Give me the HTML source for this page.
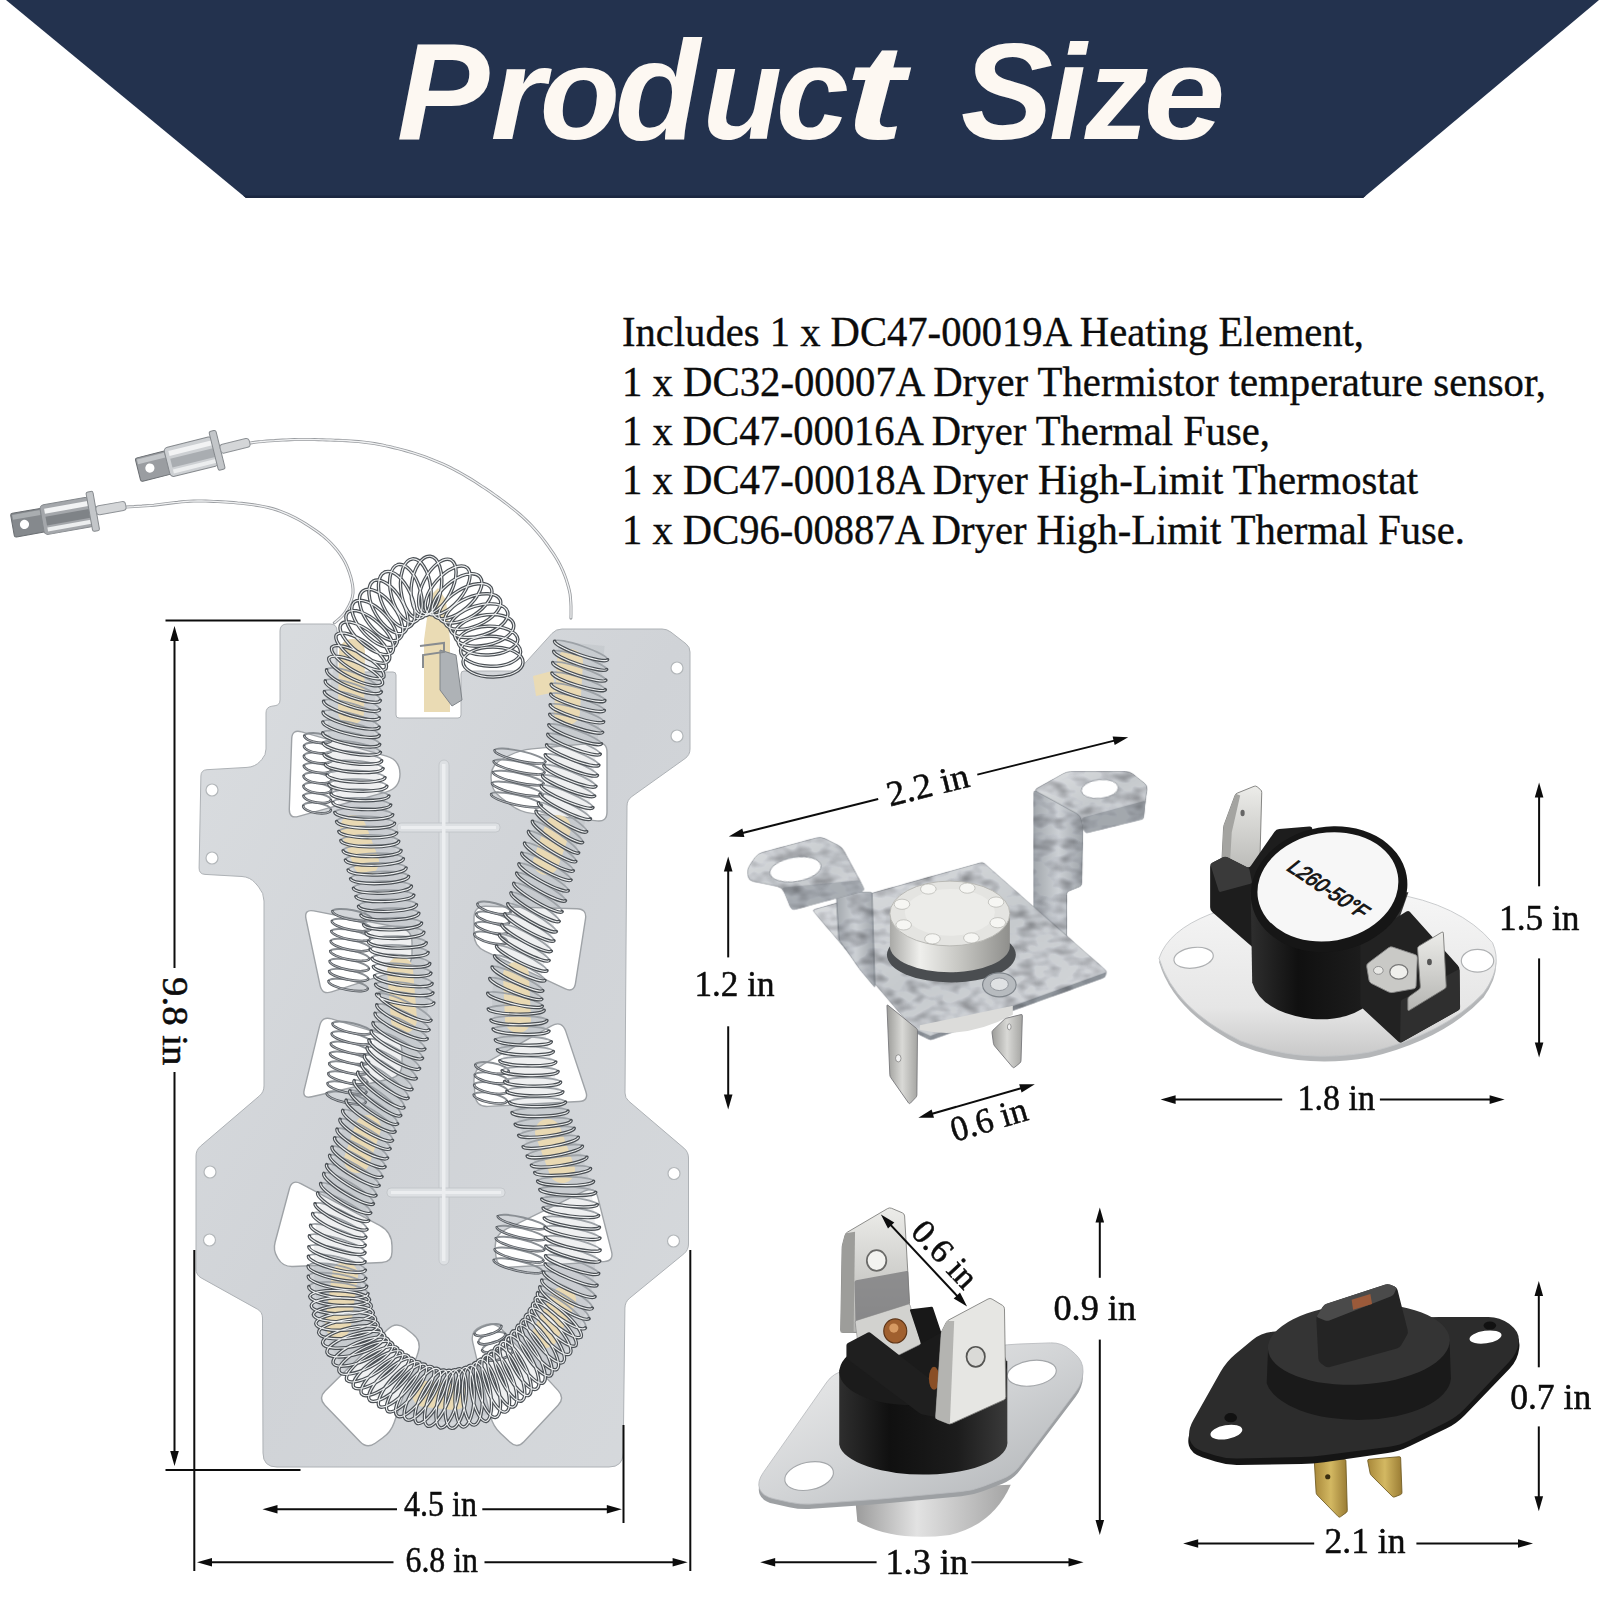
<!DOCTYPE html>
<html><head><meta charset="utf-8">
<style>
html,body{margin:0;padding:0;background:#fff;}
body{width:1601px;height:1601px;overflow:hidden;position:relative;font-family:"Liberation Serif",serif;}
svg{position:absolute;left:0;top:0;}
.title{font-family:"Liberation Sans",sans-serif;font-weight:bold;font-style:italic;fill:#fdf8f2;}
.desc{font-family:"Liberation Serif",serif;fill:#0c0c0c;stroke:#0c0c0c;stroke-width:0.35;}
.dim{font-family:"Liberation Serif",serif;fill:#0c0c0c;stroke:#0c0c0c;stroke-width:0.5;}
.sans{font-family:"Liberation Sans",sans-serif;}
</style></head><body>
<svg id="main" width="1601" height="1601" viewBox="0 0 1601 1601">
<defs>
<linearGradient id="plateg" x1="0" y1="0" x2="1" y2="1"><stop offset="0" stop-color="#dadde0"/><stop offset="0.5" stop-color="#d0d3d7"/><stop offset="1" stop-color="#d6d9dc"/></linearGradient>

<filter id="galv" x="0" y="0" width="100%" height="100%" color-interpolation-filters="sRGB"><feTurbulence type="fractalNoise" baseFrequency="0.016 0.026" numOctaves="2" seed="7" result="t"/><feColorMatrix in="t" type="matrix" values="0.7 0 0 0 0.6  0.7 0 0 0 0.6  0.7 0 0 0 0.61  0 0 0 0 1" result="g"/><feBlend in="SourceGraphic" in2="g" mode="multiply" result="b"/><feComposite in="b" in2="SourceGraphic" operator="in"/></filter>
<linearGradient id="gz" x1="0" y1="0" x2="1" y2="1"><stop offset="0" stop-color="#dfe1e3"/><stop offset="0.5" stop-color="#c6cacd"/><stop offset="1" stop-color="#d9dbde"/></linearGradient>
<linearGradient id="gzd" x1="0" y1="0" x2="1" y2="0"><stop offset="0" stop-color="#a3a8ad"/><stop offset="0.5" stop-color="#cdd1d5"/><stop offset="1" stop-color="#9fa4a9"/></linearGradient>
<linearGradient id="gcyl" x1="0" y1="0" x2="1" y2="0"><stop offset="0" stop-color="#a9a9a6"/><stop offset="0.25" stop-color="#efefec"/><stop offset="0.6" stop-color="#c4c4c0"/><stop offset="1" stop-color="#8f8f8c"/></linearGradient>
<linearGradient id="gblade" x1="0" y1="0" x2="1" y2="0"><stop offset="0" stop-color="#9c9c99"/><stop offset="0.5" stop-color="#d9d9d6"/><stop offset="1" stop-color="#a5a5a2"/></linearGradient>
<linearGradient id="gblade2" x1="0" y1="0" x2="0" y2="1"><stop offset="0" stop-color="#ecece9"/><stop offset="1" stop-color="#b5b5b2"/></linearGradient>
<linearGradient id="gwhite" x1="0" y1="0" x2="0" y2="1"><stop offset="0" stop-color="#f6f6f6"/><stop offset="0.7" stop-color="#e6e6e6"/><stop offset="1" stop-color="#c9c9c9"/></linearGradient>
<linearGradient id="gblk" x1="0" y1="0" x2="1" y2="0"><stop offset="0" stop-color="#2e2e2e"/><stop offset="0.3" stop-color="#101010"/><stop offset="0.7" stop-color="#1c1c1c"/><stop offset="1" stop-color="#3a3a3a"/></linearGradient>
<linearGradient id="gfl" x1="0" y1="0" x2="1" y2="1"><stop offset="0" stop-color="#f0f0f0"/><stop offset="0.5" stop-color="#d2d4d6"/><stop offset="1" stop-color="#aeb1b4"/></linearGradient>
<linearGradient id="gcup" x1="0" y1="0" x2="1" y2="0"><stop offset="0" stop-color="#9a9a9a"/><stop offset="0.4" stop-color="#e2e2e2"/><stop offset="1" stop-color="#a4a4a4"/></linearGradient>
<linearGradient id="gbrass" x1="0" y1="0" x2="1" y2="0"><stop offset="0" stop-color="#a8883a"/><stop offset="0.5" stop-color="#d3b862"/><stop offset="1" stop-color="#9a7c34"/></linearGradient>

</defs>
<!-- BANNER -->
<polygon points="6,0 1599,0 1363,198 246,198" fill="#23324e"/>
<polygon points="246,198 1363,198 1366,195.5 243,195.5" fill="#1b2740"/>
<text class="title" font-size="131" transform="translate(396.7 139.2) scale(1.060 1.044)">P</text>
<text class="title" font-size="131" transform="translate(490.6 139.2) scale(1.076 1.000)">r</text>
<text class="title" font-size="131" transform="translate(539.8 139.2) scale(1.003 1.000)">o</text>
<text class="title" font-size="131" transform="translate(614.7 139.2) scale(1.064 1.070)">d</text>
<text class="title" font-size="131" transform="translate(702.7 139.2) scale(0.990 1.000)">u</text>
<text class="title" font-size="131" transform="translate(776.0 139.2) scale(1.000 1.000)">c</text>
<text class="title" font-size="131" transform="translate(844.7 139.2) scale(1.380 1.035)">t</text>
<text class="title" font-size="131" transform="translate(960.7 139.2) scale(1.056 1.050)">S</text>
<text class="title" font-size="131" transform="translate(1048.9 139.2) scale(1.027 1.040)">i</text>
<text class="title" font-size="131" transform="translate(1084.7 139.2) scale(0.974 1.000)">z</text>
<text class="title" font-size="131" transform="translate(1143.5 139.2) scale(1.123 1.000)">e</text>
<!-- DESC -->
<g class="desc" font-size="42">
<text id="l1" x="622" y="346" textLength="742" lengthAdjust="spacingAndGlyphs">Includes 1 x DC47-00019A Heating Element,</text>
<text id="l2" x="622" y="395.5" textLength="924" lengthAdjust="spacingAndGlyphs">1 x DC32-00007A Dryer Thermistor temperature sensor,</text>
<text id="l3" x="622" y="444.5" textLength="648" lengthAdjust="spacingAndGlyphs">1 x DC47-00016A Dryer Thermal Fuse,</text>
<text id="l4" x="622" y="494" textLength="796" lengthAdjust="spacingAndGlyphs">1 x DC47-00018A Dryer High-Limit Thermostat</text>
<text id="l5" x="622" y="543.5" textLength="843" lengthAdjust="spacingAndGlyphs">1 x DC96-00887A Dryer High-Limit Thermal Fuse.</text>
</g>
<!--HEATER-->
<g id="heater">
<path d="M235,446 L238.9,445.2 L242.8,444.4 L246.7,443.6 L250.7,442.9 L254.6,442.3 L258.6,441.8 L262.6,441.5 L266.6,441.1 L270.6,440.8 L274.6,440.6 L278.6,440.3 L282.6,440.1 L286.6,439.9 L290.5,439.7 L294.5,439.6 L298.5,439.5 L302.5,439.5 L306.5,439.5 L310.5,439.5 L314.5,439.6 L318.5,439.7 L322.5,439.8 L326.5,439.9 L330.5,440 L334.5,440.2 L338.5,440.3 L342.5,440.5 L346.5,440.7 L350.5,441 L354.5,441.3 L358.5,441.6 L362.5,442 L366.4,442.5 L370.4,443 L374.4,443.6 L378.3,444.3 L382.2,445 L386.1,445.9 L390,446.7 L393.9,447.7 L397.8,448.6 L401.7,449.6 L405.6,450.7 L409.4,451.8 L413.2,452.9 L417,454.1 L420.8,455.4 L424.6,456.7 L428.4,458.1 L432.1,459.6 L435.8,461.1 L439.5,462.6 L443.1,464.2 L446.8,465.9 L450.4,467.7 L453.9,469.5 L457.5,471.4 L460.9,473.3 L464.4,475.3 L467.9,477.4 L471.3,479.4 L474.7,481.5 L478.1,483.7 L481.4,485.9 L484.7,488.1 L488,490.3 L491.3,492.6 L494.6,494.9 L497.9,497.2 L501.1,499.6 L504.3,502 L507.5,504.4 L510.6,506.9 L513.8,509.4 L516.9,511.9 L519.9,514.5 L522.9,517.1 L525.8,519.9 L528.7,522.7 L531.5,525.5 L534.2,528.5 L536.8,531.5 L539.4,534.5 L541.9,537.6 L544.4,540.8 L546.7,544 L549.1,547.3 L551.3,550.6 L553.6,553.9 L555.7,557.2 L557.8,560.7 L559.7,564.2 L561.5,567.8 L563.1,571.4 L564.6,575.1 L566,578.9 L567.2,582.7 L568.3,586.5 L569.3,590.4 L570.1,594.3 L570.5,598.3 L570.8,602.3 L571,606.3 L571,610.3 L571,614.3 L570.9,618.3" fill="none" stroke="#9a9da1" stroke-width="3" stroke-linecap="round"/>
<path d="M235,446 L238.9,445.2 L242.8,444.4 L246.7,443.6 L250.7,442.9 L254.6,442.3 L258.6,441.8 L262.6,441.5 L266.6,441.1 L270.6,440.8 L274.6,440.6 L278.6,440.3 L282.6,440.1 L286.6,439.9 L290.5,439.7 L294.5,439.6 L298.5,439.5 L302.5,439.5 L306.5,439.5 L310.5,439.5 L314.5,439.6 L318.5,439.7 L322.5,439.8 L326.5,439.9 L330.5,440 L334.5,440.2 L338.5,440.3 L342.5,440.5 L346.5,440.7 L350.5,441 L354.5,441.3 L358.5,441.6 L362.5,442 L366.4,442.5 L370.4,443 L374.4,443.6 L378.3,444.3 L382.2,445 L386.1,445.9 L390,446.7 L393.9,447.7 L397.8,448.6 L401.7,449.6 L405.6,450.7 L409.4,451.8 L413.2,452.9 L417,454.1 L420.8,455.4 L424.6,456.7 L428.4,458.1 L432.1,459.6 L435.8,461.1 L439.5,462.6 L443.1,464.2 L446.8,465.9 L450.4,467.7 L453.9,469.5 L457.5,471.4 L460.9,473.3 L464.4,475.3 L467.9,477.4 L471.3,479.4 L474.7,481.5 L478.1,483.7 L481.4,485.9 L484.7,488.1 L488,490.3 L491.3,492.6 L494.6,494.9 L497.9,497.2 L501.1,499.6 L504.3,502 L507.5,504.4 L510.6,506.9 L513.8,509.4 L516.9,511.9 L519.9,514.5 L522.9,517.1 L525.8,519.9 L528.7,522.7 L531.5,525.5 L534.2,528.5 L536.8,531.5 L539.4,534.5 L541.9,537.6 L544.4,540.8 L546.7,544 L549.1,547.3 L551.3,550.6 L553.6,553.9 L555.7,557.2 L557.8,560.7 L559.7,564.2 L561.5,567.8 L563.1,571.4 L564.6,575.1 L566,578.9 L567.2,582.7 L568.3,586.5 L569.3,590.4 L570.1,594.3 L570.5,598.3 L570.8,602.3 L571,606.3 L571,610.3 L571,614.3 L570.9,618.3" fill="none" stroke="#f1f2f3" stroke-width="1.3"/>
<path d="M110,508 L114,507.8 L118,507.5 L122,507.3 L126,507.1 L130,506.8 L134,506.6 L138,506.3 L141.9,506.1 L145.9,505.8 L149.9,505.5 L153.9,505.2 L157.9,504.7 L161.9,504.2 L165.8,503.7 L169.8,503.2 L173.8,502.7 L177.7,502.3 L181.7,501.8 L185.7,501.5 L189.7,501.2 L193.7,501.1 L197.7,501 L201.7,501 L205.7,501.1 L209.7,501.2 L213.7,501.4 L217.7,501.6 L221.7,501.8 L225.7,502 L229.6,502.3 L233.6,502.6 L237.6,503 L241.6,503.3 L245.6,503.8 L249.5,504.3 L253.5,504.8 L257.5,505.4 L261.4,506.1 L265.3,506.9 L269.2,507.8 L273.1,508.8 L276.9,510 L280.7,511.3 L284.4,512.8 L288.1,514.4 L291.7,516.1 L295.3,517.9 L298.8,519.8 L302.3,521.8 L305.7,523.9 L309,526 L312.4,528.2 L315.7,530.5 L318.9,532.8 L322.1,535.2 L325.2,537.8 L328.2,540.5 L331,543.3 L333.7,546.2 L336.3,549.2 L338.8,552.4 L341.1,555.6 L343.2,559 L345.2,562.5 L346.9,566.2 L348.4,569.9 L349.7,573.6 L350.9,577.5 L351.8,581.3 L352.6,585.3 L353,589.2 L353,593.2 L352.3,597.2 L351.1,601 L349.5,604.7 L347.6,608.2 L345.6,611.7 L343.2,614.8 L340.4,617.7 L337.4,620.3 L334.3,622.9" fill="none" stroke="#9a9da1" stroke-width="3" stroke-linecap="round"/>
<path d="M110,508 L114,507.8 L118,507.5 L122,507.3 L126,507.1 L130,506.8 L134,506.6 L138,506.3 L141.9,506.1 L145.9,505.8 L149.9,505.5 L153.9,505.2 L157.9,504.7 L161.9,504.2 L165.8,503.7 L169.8,503.2 L173.8,502.7 L177.7,502.3 L181.7,501.8 L185.7,501.5 L189.7,501.2 L193.7,501.1 L197.7,501 L201.7,501 L205.7,501.1 L209.7,501.2 L213.7,501.4 L217.7,501.6 L221.7,501.8 L225.7,502 L229.6,502.3 L233.6,502.6 L237.6,503 L241.6,503.3 L245.6,503.8 L249.5,504.3 L253.5,504.8 L257.5,505.4 L261.4,506.1 L265.3,506.9 L269.2,507.8 L273.1,508.8 L276.9,510 L280.7,511.3 L284.4,512.8 L288.1,514.4 L291.7,516.1 L295.3,517.9 L298.8,519.8 L302.3,521.8 L305.7,523.9 L309,526 L312.4,528.2 L315.7,530.5 L318.9,532.8 L322.1,535.2 L325.2,537.8 L328.2,540.5 L331,543.3 L333.7,546.2 L336.3,549.2 L338.8,552.4 L341.1,555.6 L343.2,559 L345.2,562.5 L346.9,566.2 L348.4,569.9 L349.7,573.6 L350.9,577.5 L351.8,581.3 L352.6,585.3 L353,589.2 L353,593.2 L352.3,597.2 L351.1,601 L349.5,604.7 L347.6,608.2 L345.6,611.7 L343.2,614.8 L340.4,617.7 L337.4,620.3 L334.3,622.9" fill="none" stroke="#f1f2f3" stroke-width="1.3"/>
<g transform="translate(138 470) rotate(-14)"><rect x="0" y="-12" width="32" height="24" rx="2" fill="#9a9da1" stroke="#6a6e72" stroke-width="1"/><rect x="1.5" y="-10.5" width="28" height="5" fill="#c3c6c9"/><circle cx="12" cy="1" r="4.6" fill="#fff"/><rect x="30" y="-15" width="50" height="30" rx="4" fill="#cdd0d3" stroke="#85898d" stroke-width="1"/><rect x="34" y="-11" width="44" height="5" fill="#f2f3f4"/><rect x="34" y="-3" width="44" height="9" fill="#a9adb1"/><rect x="34" y="8" width="44" height="4" fill="#eceeef"/><rect x="78" y="-20" width="7" height="40" rx="2" fill="#c3c6c9" stroke="#85898d" stroke-width="1"/><rect x="85" y="-4.5" width="30" height="9" rx="3" fill="#d4d6d8" stroke="#8e9296" stroke-width="1"/></g>
<g transform="translate(12.5 525.5) rotate(-10)"><rect x="0" y="-12" width="32" height="24" rx="2" fill="#85898d" stroke="#6a6e72" stroke-width="1"/><rect x="1.5" y="-10.5" width="28" height="5" fill="#a9adb0"/><circle cx="12" cy="1" r="4.6" fill="#fff"/><rect x="30" y="-15" width="50" height="30" rx="4" fill="#a4a7ab" stroke="#85898d" stroke-width="1"/><rect x="34" y="-11" width="44" height="5" fill="#f2f3f4"/><rect x="34" y="-3" width="44" height="9" fill="#7f8387"/><rect x="34" y="8" width="44" height="4" fill="#eceeef"/><rect x="78" y="-20" width="7" height="40" rx="2" fill="#c3c6c9" stroke="#85898d" stroke-width="1"/><rect x="85" y="-4.5" width="30" height="9" rx="3" fill="#d4d6d8" stroke="#8e9296" stroke-width="1"/></g>
<path d="M280,631Q280,624 287,624L330,624Q337,624 337,631L337,670Q337,672 339,672L393,672Q396,672 396,675L396,715Q396,718 399,718L458,718Q461,718 461,715L461,674Q461,671 464,671L514,671Q518,671 520.7,668L552,633.4Q556,629 562,629L662,629Q667,629 670.9,632.1L686.1,643.9Q690,647 690,652L690,749Q690,755 685.1,758.5L631.9,796.5Q627,800 627,806L625,1093Q625,1098 628.8,1101.2L683.9,1148.1Q688.5,1152 688.5,1158L688.5,1244Q688.5,1250 683.9,1253.8L629.6,1298.2Q625,1302 624.9,1308L623.2,1453Q623,1467 609,1467L277,1467Q263,1467 263,1453L262.5,1318Q262.5,1312 257.3,1309.1L201.2,1277.9Q196,1275 196,1269L196,1156Q196,1150 200.6,1146.1L259.4,1095.9Q264,1092 264,1086L264,901Q264,893 258.7,887L255.3,883Q250,877 242,876.5L205,874.4Q199,874 199.1,868L200.9,776Q201,770 207,769.7L247,767.4Q255,767 260.4,761.1L261.9,759.4Q266,755 266,749L266,713Q266,707 271.9,706.2L275.1,705.7Q280,705 280,700Z" fill="url(#plateg)" stroke="#aeb2b6" stroke-width="1"/>
<g fill="#dde0e3" stroke="#bfc3c7" stroke-width="0.8"><rect x="439" y="760" width="10" height="505" rx="5"/><rect x="397" y="823" width="103" height="9" rx="4"/><rect x="387" y="1188" width="118" height="9" rx="4"/></g><g fill="#eceef0"><rect x="442" y="764" width="3.5" height="497"/><rect x="401" y="826" width="95" height="3"/><rect x="391" y="1191" width="110" height="3"/></g>
<circle cx="212" cy="790" r="6" fill="#fff" stroke="#b3b7ba" stroke-width="1.2"/>
<circle cx="212" cy="858" r="6" fill="#fff" stroke="#b3b7ba" stroke-width="1.2"/>
<circle cx="677" cy="668" r="6" fill="#fff" stroke="#b3b7ba" stroke-width="1.2"/>
<circle cx="677" cy="736" r="6" fill="#fff" stroke="#b3b7ba" stroke-width="1.2"/>
<circle cx="210" cy="1172" r="6" fill="#fff" stroke="#b3b7ba" stroke-width="1.2"/>
<circle cx="209.5" cy="1240" r="6" fill="#fff" stroke="#b3b7ba" stroke-width="1.2"/>
<circle cx="674" cy="1173.5" r="6" fill="#fff" stroke="#b3b7ba" stroke-width="1.2"/>
<circle cx="673.5" cy="1241" r="6" fill="#fff" stroke="#b3b7ba" stroke-width="1.2"/>
<path d="M291.7,739Q292,729 301.6,731.8L386.5,756.1Q400,760 400,774L400,774Q400,788 386.5,791.8L298.6,816.3Q289,819 289.3,809Z" fill="#fff" stroke="#9fa3a7" stroke-width="1.4"/>
<path d="M306,918.8Q304,909 313.8,910.9L400.2,927.7Q412,930 412,942L412,954Q412,966 400.6,969.7L331.5,991.9Q322,995 320,985.2Z" fill="#fff" stroke="#9fa3a7" stroke-width="1.4"/>
<path d="M319.7,1025.7Q322,1016 331.6,1018.9L390.5,1036.6Q402,1040 402,1052L402,1064Q402,1076 390.3,1078.7L311.7,1096.8Q302,1099 304.3,1089.3Z" fill="#fff" stroke="#9fa3a7" stroke-width="1.4"/>
<path d="M289.4,1188.7Q292,1179 300.8,1183.7L379.6,1225.4Q392,1232 392,1246L392,1252Q392,1262 382,1262.5L293,1266.5Q283,1267 278,1258.5L277.1,1256.9Q273,1250 275.1,1242.3Z" fill="#fff" stroke="#9fa3a7" stroke-width="1.4"/>
<path d="M597,742.9Q607,742 607,752L607,812Q607,822 597.1,820.9L531.9,813.4Q520,812 510.4,804.7L500.6,797.3Q491,790 491,778L491,777Q491,765 501.7,759.5L509.3,755.5Q520,750 531.9,748.9Z" fill="#fff" stroke="#9fa3a7" stroke-width="1.4"/>
<path d="M577,908.7Q587,909 585.5,918.9L575.5,983.1Q574,993 564.9,988.7L484.9,951.1Q474,946 474,934L474,918Q474,906 486,906.3Z" fill="#fff" stroke="#9fa3a7" stroke-width="1.4"/>
<path d="M551.5,1025.9Q562,1020 565.8,1031.4L585.8,1091.5Q589,1101 579,1101.5L488,1106.4Q476,1107 475,1095L474,1082Q473,1070 483.5,1064.1Z" fill="#fff" stroke="#9fa3a7" stroke-width="1.4"/>
<path d="M584.2,1191.2Q595,1186 597.9,1197.6L611.5,1251.3Q614,1261 604,1261.6L509,1267.3Q497,1268 495.9,1256L495.3,1248.9Q494,1235 506.6,1228.9Z" fill="#fff" stroke="#9fa3a7" stroke-width="1.4"/>
<path d="M324.9,1405.2Q318,1398 325.1,1391L387.5,1329.4Q396,1321 405.5,1328.3L412.5,1333.7Q422,1341 418.1,1352.4L394.2,1422.5Q391,1432 382.8,1437.8L375.2,1443.2Q367,1449 360.1,1441.8Z" fill="#fff" stroke="#9fa3a7" stroke-width="1.4"/>
<path d="M472.8,1342.7Q470,1331 481.1,1326.4L482.9,1325.6Q494,1321 502.1,1329.8L558.2,1390.6Q565,1398 558.1,1405.3L523.9,1441.7Q517,1449 509.8,1442.1L500.2,1432.9Q493,1426 490.6,1416.3Z" fill="#fff" stroke="#9fa3a7" stroke-width="1.4"/>
<path d="M424,712 L424,640 L430,596 L438,588 L446,600 L450,640 L450,712 Z" fill="#eadbb4"/>
<path d="M440,650 L456,655 L462,700 L452,706 L440,690 Z" fill="#aeb2b6" stroke="#80858a" stroke-width="1"/>
<path d="M420,646 L444,643 L444,652 L423,655 L423,668" fill="none" stroke="#888c90" stroke-width="2"/>
<path d="M304.2,735.9A14,5 188.8 0 1 331.8,740.1M304,745.9A14,5 188.8 0 1 331.7,750.1M303.9,755.9A14,5 188.8 0 1 331.6,760.1M303.8,765.9A14,5 188.8 0 1 331.4,770.1M303.6,775.9A14,5 188.8 0 1 331.3,780.1M303.5,785.9A14,5 188.8 0 1 331.2,790.1M303.4,795.9A14,5 188.8 0 1 331,800.1M303.2,805.9A14,5 188.8 0 1 330.9,810.1" fill="none" stroke="#8a8f94" stroke-width="2"/><path d="M304.2,735.9A14,5 188.8 0 0 331.8,740.1M304,745.9A14,5 188.8 0 0 331.7,750.1M303.9,755.9A14,5 188.8 0 0 331.6,760.1M303.8,765.9A14,5 188.8 0 0 331.4,770.1M303.6,775.9A14,5 188.8 0 0 331.3,780.1M303.5,785.9A14,5 188.8 0 0 331.2,790.1M303.4,795.9A14,5 188.8 0 0 331,800.1M303.2,805.9A14,5 188.8 0 0 330.9,810.1" fill="none" stroke="#565b60" stroke-width="2.6" stroke-linecap="round"/><path d="M304.2,735.9A14,5 188.8 0 0 331.8,740.1M304,745.9A14,5 188.8 0 0 331.7,750.1M303.9,755.9A14,5 188.8 0 0 331.6,760.1M303.8,765.9A14,5 188.8 0 0 331.4,770.1M303.6,775.9A14,5 188.8 0 0 331.3,780.1M303.5,785.9A14,5 188.8 0 0 331.2,790.1M303.4,795.9A14,5 188.8 0 0 331,800.1M303.2,805.9A14,5 188.8 0 0 330.9,810.1" fill="none" stroke="#c9ccd0" stroke-width="0.8"/>
<path d="M332.4,911.1A20,5 191.1 0 1 371.6,918.9M331.8,921.1A20,5 191.1 0 1 371.1,928.8M331.3,931.1A20,5 191.1 0 1 370.5,938.8M330.7,941.1A20,5 191.1 0 1 370,948.8M330.2,951.1A20,5 191.1 0 1 369.4,958.8M329.6,961.1A20,5 191.1 0 1 368.9,968.8M329.1,971A20,5 191.1 0 1 368.3,978.8M328.5,981A20,5 191.1 0 1 367.8,988.8" fill="none" stroke="#8a8f94" stroke-width="2"/><path d="M332.4,911.1A20,5 191.1 0 0 371.6,918.9M331.8,921.1A20,5 191.1 0 0 371.1,928.8M331.3,931.1A20,5 191.1 0 0 370.5,938.8M330.7,941.1A20,5 191.1 0 0 370,948.8M330.2,951.1A20,5 191.1 0 0 369.4,958.8M329.6,961.1A20,5 191.1 0 0 368.9,968.8M329.1,971A20,5 191.1 0 0 368.3,978.8M328.5,981A20,5 191.1 0 0 367.8,988.8" fill="none" stroke="#565b60" stroke-width="2.6" stroke-linecap="round"/><path d="M332.4,911.1A20,5 191.1 0 0 371.6,918.9M331.8,921.1A20,5 191.1 0 0 371.1,928.8M331.3,931.1A20,5 191.1 0 0 370.5,938.8M330.7,941.1A20,5 191.1 0 0 370,948.8M330.2,951.1A20,5 191.1 0 0 369.4,958.8M329.6,961.1A20,5 191.1 0 0 368.9,968.8M329.1,971A20,5 191.1 0 0 368.3,978.8M328.5,981A20,5 191.1 0 0 367.8,988.8" fill="none" stroke="#c9ccd0" stroke-width="0.8"/>
<path d="M332.5,1023.6A20,5 192.8 0 1 371.5,1032.4M331.7,1033.5A20,5 192.8 0 1 370.7,1042.4M330.8,1043.5A20,5 192.8 0 1 369.8,1052.3M330,1053.5A20,5 192.8 0 1 369,1062.3M329.2,1063.4A20,5 192.8 0 1 368.2,1072.3M328.3,1073.4A20,5 192.8 0 1 367.4,1082.2M327.5,1083.4A20,5 192.8 0 1 366.5,1092.2M326.7,1093.3A20,5 192.8 0 1 365.7,1102.2" fill="none" stroke="#8a8f94" stroke-width="2"/><path d="M332.5,1023.6A20,5 192.8 0 0 371.5,1032.4M331.7,1033.5A20,5 192.8 0 0 370.7,1042.4M330.8,1043.5A20,5 192.8 0 0 369.8,1052.3M330,1053.5A20,5 192.8 0 0 369,1062.3M329.2,1063.4A20,5 192.8 0 0 368.2,1072.3M328.3,1073.4A20,5 192.8 0 0 367.4,1082.2M327.5,1083.4A20,5 192.8 0 0 366.5,1092.2M326.7,1093.3A20,5 192.8 0 0 365.7,1102.2" fill="none" stroke="#565b60" stroke-width="2.6" stroke-linecap="round"/><path d="M332.5,1023.6A20,5 192.8 0 0 371.5,1032.4M331.7,1033.5A20,5 192.8 0 0 370.7,1042.4M330.8,1043.5A20,5 192.8 0 0 369.8,1052.3M330,1053.5A20,5 192.8 0 0 369,1062.3M329.2,1063.4A20,5 192.8 0 0 368.2,1072.3M328.3,1073.4A20,5 192.8 0 0 367.4,1082.2M327.5,1083.4A20,5 192.8 0 0 366.5,1092.2M326.7,1093.3A20,5 192.8 0 0 365.7,1102.2" fill="none" stroke="#c9ccd0" stroke-width="0.8"/>
<path d="M494.6,750.3A26,5 192.6 0 1 545.4,761.7M493.7,761.3A26,5 192.6 0 1 544.5,772.6M492.9,772.3A26,5 192.6 0 1 543.6,783.6M492,783.2A26,5 192.6 0 1 542.7,794.6M491.1,794.2A26,5 192.6 0 1 541.9,805.5" fill="none" stroke="#8a8f94" stroke-width="2"/><path d="M494.6,750.3A26,5 192.6 0 0 545.4,761.7M493.7,761.3A26,5 192.6 0 0 544.5,772.6M492.9,772.3A26,5 192.6 0 0 543.6,783.6M492,783.2A26,5 192.6 0 0 542.7,794.6M491.1,794.2A26,5 192.6 0 0 541.9,805.5" fill="none" stroke="#565b60" stroke-width="2.6" stroke-linecap="round"/><path d="M494.6,750.3A26,5 192.6 0 0 545.4,761.7M493.7,761.3A26,5 192.6 0 0 544.5,772.6M492.9,772.3A26,5 192.6 0 0 543.6,783.6M492,783.2A26,5 192.6 0 0 542.7,794.6M491.1,794.2A26,5 192.6 0 0 541.9,805.5" fill="none" stroke="#c9ccd0" stroke-width="0.8"/>
<path d="M477.5,903.8A17,5 194.2 0 1 510.5,912.2M476.4,913.8A17,5 194.2 0 1 509.4,922.1M475.4,923.7A17,5 194.2 0 1 508.3,932M474.3,933.7A17,5 194.2 0 1 507.3,942" fill="none" stroke="#8a8f94" stroke-width="2"/><path d="M477.5,903.8A17,5 194.2 0 0 510.5,912.2M476.4,913.8A17,5 194.2 0 0 509.4,922.1M475.4,923.7A17,5 194.2 0 0 508.3,932M474.3,933.7A17,5 194.2 0 0 507.3,942" fill="none" stroke="#565b60" stroke-width="2.6" stroke-linecap="round"/><path d="M477.5,903.8A17,5 194.2 0 0 510.5,912.2M476.4,913.8A17,5 194.2 0 0 509.4,922.1M475.4,923.7A17,5 194.2 0 0 508.3,932M474.3,933.7A17,5 194.2 0 0 507.3,942" fill="none" stroke="#c9ccd0" stroke-width="0.8"/>
<path d="M475.3,1064.7A17,5 191.2 0 1 508.7,1071.3M474.8,1074.7A17,5 191.2 0 1 508.1,1081.3M474.2,1084.7A17,5 191.2 0 1 507.6,1091.3M473.7,1094.7A17,5 191.2 0 1 507,1101.2" fill="none" stroke="#8a8f94" stroke-width="2"/><path d="M475.3,1064.7A17,5 191.2 0 0 508.7,1071.3M474.8,1074.7A17,5 191.2 0 0 508.1,1081.3M474.2,1084.7A17,5 191.2 0 0 507.6,1091.3M473.7,1094.7A17,5 191.2 0 0 507,1101.2" fill="none" stroke="#565b60" stroke-width="2.6" stroke-linecap="round"/><path d="M475.3,1064.7A17,5 191.2 0 0 508.7,1071.3M474.8,1074.7A17,5 191.2 0 0 508.1,1081.3M474.2,1084.7A17,5 191.2 0 0 507.6,1091.3M473.7,1094.7A17,5 191.2 0 0 507,1101.2" fill="none" stroke="#c9ccd0" stroke-width="0.8"/>
<path d="M497.7,1216.3A25,5 193.2 0 1 546.3,1227.7M496.7,1227.2A25,5 193.2 0 1 545.3,1238.7M495.7,1238.2A25,5 193.2 0 1 544.3,1249.6M494.7,1249.2A25,5 193.2 0 1 543.4,1260.6M493.7,1260.1A25,5 193.2 0 1 542.4,1271.5" fill="none" stroke="#8a8f94" stroke-width="2"/><path d="M497.7,1216.3A25,5 193.2 0 0 546.3,1227.7M496.7,1227.2A25,5 193.2 0 0 545.3,1238.7M495.7,1238.2A25,5 193.2 0 0 544.3,1249.6M494.7,1249.2A25,5 193.2 0 0 543.4,1260.6M493.7,1260.1A25,5 193.2 0 0 542.4,1271.5" fill="none" stroke="#565b60" stroke-width="2.6" stroke-linecap="round"/><path d="M497.7,1216.3A25,5 193.2 0 0 546.3,1227.7M496.7,1227.2A25,5 193.2 0 0 545.3,1238.7M495.7,1238.2A25,5 193.2 0 0 544.3,1249.6M494.7,1249.2A25,5 193.2 0 0 543.4,1260.6M493.7,1260.1A25,5 193.2 0 0 542.4,1271.5" fill="none" stroke="#c9ccd0" stroke-width="0.8"/>
<path d="M474.6,1334A14,5 163.2 0 1 501.4,1326M478.4,1342.2A14,5 163.2 0 1 505.2,1334.1M482.1,1350.4A14,5 163.2 0 1 508.9,1342.3M485.9,1358.6A14,5 163.2 0 1 512.7,1350.5" fill="none" stroke="#8a8f94" stroke-width="2"/><path d="M474.6,1334A14,5 163.2 0 0 501.4,1326M478.4,1342.2A14,5 163.2 0 0 505.2,1334.1M482.1,1350.4A14,5 163.2 0 0 508.9,1342.3M485.9,1358.6A14,5 163.2 0 0 512.7,1350.5" fill="none" stroke="#565b60" stroke-width="2.6" stroke-linecap="round"/><path d="M474.6,1334A14,5 163.2 0 0 501.4,1326M478.4,1342.2A14,5 163.2 0 0 505.2,1334.1M482.1,1350.4A14,5 163.2 0 0 508.9,1342.3M485.9,1358.6A14,5 163.2 0 0 512.7,1350.5" fill="none" stroke="#c9ccd0" stroke-width="0.8"/>
<path d="M359,658 L358.3,661.9 L357.5,665.9 L356.7,669.8 L355.9,673.7 L355.2,677.6 L354.5,681.6 L353.8,685.5 L353.2,689.5 L352.7,693.4 L352.2,697.4 L351.9,701.4 L351.6,705.4 L351.4,709.4 L351.2,713.4 L351.1,717.4 L351,721.4 L351,725.4 L351,729.4 L351.1,733.4 L351.2,737.4 L351.4,741.4 L351.6,745.4 L351.9,749.3 L352.3,753.3 L352.8,757.3 L353.4,761.3 L354,765.2 L354.7,769.1 L355.4,773.1 L356.2,777 L357,780.9 L357.8,784.8 L358.7,788.7 L359.5,792.7 L360.3,796.6 L361.1,800.5 L361.9,804.4 L362.7,808.3 L363.5,812.3 L364.3,816.2 L365.1,820.1 L366,824 L366.8,827.9 L367.7,831.8 L368.6,835.7 L369.5,839.6 L370.4,843.5 L371.4,847.4 L372.3,851.3 L373.3,855.1 L374.4,859 L375.4,862.9 L376.5,866.7 L377.6,870.6 L378.7,874.4 L379.8,878.2 L380.9,882.1 L382,885.9 L383.2,889.8 L384.2,893.6 L385.3,897.5 L386.4,901.3 L387.4,905.2 L388.5,909 L389.6,912.9 L390.7,916.7 L391.7,920.6 L392.8,924.5 L393.8,928.3 L394.9,932.2 L395.9,936.1 L396.8,939.9 L397.7,943.8 L398.5,947.8 L399.3,951.7 L400,955.6 L400.7,959.6 L401.3,963.5 L401.8,967.5 L402.4,971.4 L402.8,975.4 L403.3,979.4 L403.7,983.4 L404.1,987.3 L404.5,991.3 L404.9,995.3 L405.2,999.3 L405.6,1003.3 L405,1007.2 L404.2,1011.1 L403.4,1015 L402.6,1019 L401.8,1022.9 L401,1026.8 L400.1,1030.7 L399.2,1034.6 L398.3,1038.5 L397.4,1042.4 L396.4,1046.3 L395.4,1050.1 L394.4,1054 L393.3,1057.8 L392.1,1061.7 L390.8,1065.5 L389.5,1069.2 L388.1,1073 L386.6,1076.7 L385,1080.4 L383.5,1084 L381.9,1087.7 L380.3,1091.4 L378.7,1095.1 L377.1,1098.8 L375.6,1102.5 L374.2,1106.2 L372.7,1109.9 L371.4,1113.7 L370.1,1117.5 L368.9,1121.3 L367.7,1125.1 L366.6,1128.9 L365.4,1132.8 L364.3,1136.6 L363.2,1140.4 L362.1,1144.3 L361,1148.1 L359.9,1152 L358.8,1155.8 L357.7,1159.7 L356.5,1163.5 L355.4,1167.3 L354.2,1171.1 L353,1175 L351.7,1178.8 L350.5,1182.6 L349.3,1186.4 L348.1,1190.2 L346.9,1194 L345.8,1197.9 L344.7,1201.7 L343.6,1205.6 L342.6,1209.4 L341.7,1213.3 L340.8,1217.2 L340,1221.2 L339.3,1225.1 L338.7,1229 L338.1,1233 L337.7,1237 L337.4,1241 L337.2,1245 L337,1249 L336.9,1253 L336.9,1257 L336.9,1261 L336.9,1265 L336.9,1268.9 L337.1,1272.9 L337.2,1276.9 L337.5,1280.9 L337.8,1284.9 L338.2,1288.9 L338.8,1292.9 L339.4,1296.8 L340.2,1300.7 L341,1304.6 L342,1308.5 L343,1312.4 L344.1,1316.2 L345.3,1320.1 L346.6,1323.8 L348,1327.6 L349.5,1331.3 L351.1,1335 L352.8,1338.6 L354.7,1342.1 L356.7,1345.6 L358.9,1348.9 L361.3,1352.1 L363.7,1355.3 L366.4,1358.3 L369.1,1361.2 L371.9,1364 L374.9,1366.8 L377.9,1369.4 L380.9,1371.9 L384.1,1374.4 L387.3,1376.8 L390.6,1379.1 L394,1381.3 L397.4,1383.3 L400.9,1385.2 L404.5,1387 L408.1,1388.7 L411.8,1390.3 L415.5,1391.8 L419.2,1393.2 L423,1394.5 L426.8,1395.7 L430.7,1396.7 L434.6,1397.6 L438.5,1398.3 L442.5,1398.7 L446.5,1399 L450.5,1398.9 L454.5,1398.7 L458.5,1398.2 L462.4,1397.6 L466.3,1396.8 L470.2,1395.8 L474,1394.7 L477.8,1393.3 L481.5,1391.7 L485.1,1389.9 L488.6,1388 L492,1386 L495.4,1383.8 L498.7,1381.6 L501.9,1379.2 L505.1,1376.8 L508.3,1374.4 L511.4,1371.9 L514.5,1369.3 L517.5,1366.7 L520.5,1364 L523.5,1361.3 L526.4,1358.6 L529.2,1355.8 L532,1352.9 L534.8,1350 L537.5,1347.1 L540.1,1344.1 L542.7,1341 L545.2,1337.9 L547.6,1334.7 L549.9,1331.5 L552.2,1328.1 L554.3,1324.7 L556.3,1321.3 L558.1,1317.7 L559.9,1314.1 L561.5,1310.5 L563,1306.8 L564.3,1303 L565.6,1299.2 L566.7,1295.4 L567.7,1291.5 L568.7,1287.6 L569.5,1283.7 L570.2,1279.8 L570.9,1275.8 L571.4,1271.9 L571.9,1267.9 L572.2,1263.9 L572.5,1259.9 L572.7,1255.9 L572.8,1251.9 L572.8,1247.9 L572.8,1243.9 L572.7,1239.9 L572.6,1235.9 L572.4,1231.9 L572.2,1227.9 L571.9,1223.9 L571.6,1219.9 L571.3,1216 L570.9,1212 L570.4,1208 L569.9,1204 L569.3,1200.1 L568.7,1196.1 L568,1192.2 L567.2,1188.3 L566.4,1184.4 L565.4,1180.5 L564.4,1176.6 L563.3,1172.8 L562.1,1169 L560.7,1165.2 L559.3,1161.5 L557.7,1157.8 L556.1,1154.1 L554.5,1150.5 L552.9,1146.8 L551.2,1143.1 L549.6,1139.5 L548.1,1135.8 L546.6,1132.1 L545.2,1128.4 L543.9,1124.6 L542.6,1120.8 L541.5,1116.9 L540.4,1113.1 L539.3,1109.2 L538.3,1105.4 L537.3,1101.5 L536.4,1097.6 L535.4,1093.7 L534.5,1089.8 L533.6,1085.9 L532.7,1082 L531.7,1078.1 L530.8,1074.3 L529.9,1070.4 L529,1066.5 L528.1,1062.6 L527.2,1058.7 L526.4,1054.8 L525.5,1050.8 L524.6,1046.9 L523.8,1043 L523,1039.1 L522.1,1035.2 L521.3,1031.3 L520.5,1027.4 L519.7,1023.5 L518.8,1019.6 L517.8,1015.7 L516.7,1011.8 L515.8,1007.9 L515.2,1004 L515,1000 L515.1,996 L515.4,992 L515.9,988 L516.5,984.1 L517.2,980.1 L518,976.2 L518.8,972.3 L519.6,968.4 L520.5,964.5 L521.3,960.6 L522.1,956.7 L523,952.8 L523.9,948.9 L524.9,945 L525.8,941.1 L526.8,937.2 L527.8,933.3 L528.8,929.5 L529.8,925.6 L530.9,921.7 L532,917.9 L533.1,914 L534.2,910.2 L535.3,906.4 L536.5,902.5 L537.6,898.7 L538.7,894.9 L539.9,891 L541,887.2 L542,883.3 L543,879.5 L544.1,875.6 L545,871.7 L546,867.8 L547.1,864 L548.1,860.1 L549.2,856.2 L550.3,852.4 L551.4,848.6 L552.7,844.8 L554,841 L555.4,837.3 L556.8,833.5 L558.2,829.8 L559.6,826 L560.9,822.2 L562.2,818.4 L563.3,814.6 L564.3,810.7 L565.2,806.8 L566,802.9 L566.7,799 L567.3,795 L567.9,791.1 L568.4,787.1 L568.9,783.1 L569.4,779.2 L570,775.2 L570.5,771.2 L571.1,767.3 L571.6,763.3 L572.1,759.3 L572.6,755.4 L573.1,751.4 L573.6,747.4 L574.1,743.5 L574.5,739.5 L575,735.5 L575.4,731.5 L575.8,727.6 L576.1,723.6 L576.4,719.6 L576.7,715.6 L577,711.6 L577.2,707.6 L577.5,703.6 L577.7,699.6 L577.9,695.6 L578.1,691.6 L578.3,687.6 L578.5,683.6 L578.7,679.6 L579,675.7 L579.2,671.7 L579.6,667.7 L579.9,663.7 L580.2,659.7 L580.6,655.7 L580.9,651.7 L581.3,647.8 L581.7,643.8" fill="none" stroke="#8d9399" stroke-opacity="0.14" stroke-width="46" stroke-linecap="butt" stroke-linejoin="round"/>
<path d="M570,662 L567,712" stroke="#e9d9b3" stroke-width="26" stroke-linecap="round" fill="none"/>
<path d="M558,828 L546,862" stroke="#e9d9b3" stroke-width="26" stroke-linecap="round" fill="none"/>
<path d="M516,975 L518,1020" stroke="#e9d9b3" stroke-width="26" stroke-linecap="round" fill="none"/>
<path d="M548,1132 L562,1170" stroke="#e9d9b3" stroke-width="26" stroke-linecap="round" fill="none"/>
<path d="M368,1128 L357,1160" stroke="#e9d9b3" stroke-width="26" stroke-linecap="round" fill="none"/>
<path d="M455,1397 L425,1394" stroke="#e9d9b3" stroke-width="26" stroke-linecap="round" fill="none"/>
<path d="M345,1275 L338,1325" stroke="#e9d9b3" stroke-width="26" stroke-linecap="round" fill="none"/>
<path d="M400,970 L404,1020" stroke="#e9d9b3" stroke-width="26" stroke-linecap="round" fill="none"/>
<path d="M353,828 L366,862" stroke="#e9d9b3" stroke-width="26" stroke-linecap="round" fill="none"/>
<path d="M352,652 L351,712" stroke="#e9d9b3" stroke-width="26" stroke-linecap="round" fill="none"/>
<path d="M563,1300 L545,1335" stroke="#e9d9b3" stroke-width="26" stroke-linecap="round" fill="none"/>
<path d="M533,676 L552,671 L556,692 L536,696 Z" fill="#eadbb4"/>
<path d="M326.6,669.8A29.5,7.8 202 0 1 381.3,691.8M325.3,680.9A29.2,6.9 199.6 0 1 380.3,700.5M324.4,691.6A29,6 198.2 0 1 379.5,709.7M323.6,701.3A29,6 196.8 0 1 379.2,718M323.1,712.1A29,6 195.1 0 1 379.1,727.2M322.8,721.9A29,6 193.5 0 1 379.2,735.4M322.8,732.9A29,6 191.5 0 1 379.7,744.5M323.2,742.9A29,6 189.5 0 1 380.4,752.4M324,754.3A29,6 186.4 0 1 381.7,760.8M325.3,764.3A29,6 184.2 0 1 383.1,768.6M327.1,774.9A29,6 182.7 0 1 385,777.7M328.9,784.1A29,6 182.1 0 1 386.9,786.2M331,793.8A29,6 182.3 0 1 388.9,796M332.8,802.4A29,6 182.6 0 1 390.7,805M334.8,812.4A29,6 182.3 0 1 392.7,814.7M336.6,821.4A29,6 181.9 0 1 394.6,823.3M338.8,831.4A29,6 181.3 0 1 396.7,832.8M340.8,840.5A29,6 180.7 0 1 398.8,841.2M343.1,850.7A29,6 179.9 0 1 401.1,850.5M345.4,859.9A29,6 178.8 0 1 403.4,858.7M348.1,869.9A29,6 178.1 0 1 406.1,867.9M350.6,878.7A29,6 177.8 0 1 408.6,876.4M353.4,888.2A29,6 178 0 1 411.4,886.1M355.9,896.6A29,6 178.5 0 1 413.8,895.1M358.5,906.2A29,6 178.5 0 1 416.5,904.7M360.9,915A29,6 178.3 0 1 418.9,913.3M363.6,924.5A29,6 178.6 0 1 421.6,923.1M365.9,932.7A29,6 179.5 0 1 423.9,932.2M368.3,941.6A29,6 181.1 0 1 426.3,942.7M370.2,949.4A29,6 183.2 0 1 428.1,952.6M372,958.2A29,6 185.3 0 1 429.8,963.5M373.3,966.4A29,6 186.5 0 1 430.9,973.1M374.6,975.8A29,6 187.7 0 1 432.1,983.5M375.6,984.3A29,6 188.5 0 1 432.9,992.9M376.5,994.2A29,6 188.8 0 1 433.8,1003M379,994.6A29,6 206.3 0 1 431,1020.3M376.8,1004.8A29,6 205.5 0 1 429.1,1029.8M375.1,1013.4A29,6 206.1 0 1 427.2,1038.8M373.1,1022.7A29,6 206.9 0 1 424.8,1049M371.3,1031A29,6 208 0 1 422.5,1058.2M369.1,1039.9A29,6 209.7 0 1 419.5,1068.6M367.2,1047.5A29,6 212.1 0 1 416.3,1078.3M364.6,1055.5A29,6 215.3 0 1 412,1089.1M361.7,1063.2A29,6 216.9 0 1 408.1,1098M357.9,1072.2A29,6 217.4 0 1 404,1107.4M354.2,1080.7A29,6 216.8 0 1 400.7,1115.5M349.9,1090.8A29,6 214.8 0 1 397.5,1123.9M346.2,1100.2A29,6 212.6 0 1 395.1,1131.5M342.8,1110.4A29,6 211.1 0 1 392.5,1140.4M340,1119.4A29,6 210.2 0 1 390.1,1148.6M337.1,1129.2A29,6 209.8 0 1 387.5,1158M334.7,1137.8A29,6 210 0 1 385,1166.8M332.1,1147.1A29,6 210.7 0 1 382,1176.7M329.7,1155.3A29,6 211.5 0 1 379.1,1185.6M326.7,1164.7A29,6 211.8 0 1 376,1195.3M323.9,1173.4A29,6 211.4 0 1 373.4,1203.7M320.7,1183.5A29,6 210.4 0 1 370.7,1212.8M317.8,1192.9A29,6 208.5 0 1 368.7,1220.7M315,1203.8A29,6 206.1 0 1 367,1229.3M312.7,1213.6A29,6 203.9 0 1 365.8,1237.1M310.6,1225.4A29,6 200 0 1 365.1,1245.2M309.4,1235.9A29,6 196.7 0 1 365,1252.6M308.8,1246.8A29.1,6.2 194.9 0 1 365,1261.7M308.4,1256.3A29.3,6.5 193.7 0 1 365.3,1270.2M308.2,1266.1A29.4,6.9 192 0 1 365.8,1278.4M308.3,1276.2A29.6,7.2 189.8 0 1 366.7,1286.3M308.8,1286.6A29.8,7.6 186.8 0 1 368,1293.7M585.4,1327.9A29.6,7.3 36.6 0 0 537.8,1292.6M589,1318.6A29.3,6.7 32.9 0 0 539.9,1286.8M592.3,1308.2A28.9,6 29.2 0 0 541.8,1280.1M595,1296.6A28.4,5.3 25.5 0 0 543.7,1272.1M597,1285.2A28,4.5 22.3 0 0 545.2,1263.9M598.7,1273.5A28,4.5 18.6 0 0 545.6,1255.7M599.7,1261.1A28,4.5 15.5 0 0 545.8,1246.1M600.1,1250A28,4.5 13.2 0 0 545.5,1237.2M599.9,1238.1A28,4.5 11.2 0 0 545,1227.2M599.4,1227.3A28,4.5 9.7 0 0 544.2,1218M598.6,1215.5A28,4.5 7.8 0 0 543.1,1207.9M597.4,1204.6A28,4.5 5.7 0 0 541.7,1199M595.7,1192.4A28,4.5 3 0 0 539.8,1189.4M593.6,1181.3A28,4.5 0.3 0 0 537.6,1181M590.6,1168.5A28,4.5 -4.2 0 0 534.7,1172.6M586.9,1157.2A28,4.5 -8.1 0 0 531.4,1165.2M582.4,1146.2A28,4.5 -10 0 0 527.2,1156M578.3,1137.2A28,4.5 -9.8 0 0 523.1,1146.7M574.2,1128.3A28,4.5 -7.3 0 0 518.7,1135.4M571.1,1120.6A28,4.5 -3.6 0 0 515.2,1124.2M568,1111.1A28,4.5 -1.5 0 0 512,1112.6M565.5,1102.1A28,4.5 -0.1 0 0 509.5,1102.2M562.9,1091.8A28,4.5 0.7 0 0 506.9,1091.2M560.6,1082.1A28,4.5 0.8 0 0 504.6,1081.4M558.1,1071.4A28,4.5 0.8 0 0 502.1,1070.7M555.8,1061.9A28,4.5 1.3 0 0 499.8,1060.7M553.4,1051.4A28,4.5 1.7 0 0 497.4,1049.8M551.3,1041.7A28,4.5 1.9 0 0 495.3,1039.8M549,1031.1A28,4.5 2.2 0 0 493.1,1029M546.9,1020.5A28,4.5 0.4 0 0 490.9,1020M544.2,1010.3A28,4.5 1.3 0 0 488.2,1009M542.3,1006.1A28,4.5 13.2 0 0 487.7,993.3M541.8,999.1A28,4.5 21.7 0 0 489.8,978.4M542.8,990.7A28,4.5 25.1 0 0 492.1,967M544.9,980.4A28,4.5 26.1 0 0 494.6,955.8M546.9,970.7A28,4.5 26.2 0 0 496.6,946M549.1,960.5A28,4.5 27.5 0 0 499.4,934.7M551.3,951.2A28,4.5 28.3 0 0 502,924.6M553.9,940.8A28,4.5 28.9 0 0 504.9,913.7M556.3,931.6A28,4.5 29.9 0 0 507.8,903.7M559.2,921.3A28,4.5 30.5 0 0 511,892.8M562.1,911.7A28,4.5 30.5 0 0 513.8,883.3M565.4,900.7A28,4.5 29.6 0 0 516.7,873.1M568.2,890.6A28,4.5 28.6 0 0 519,863.8M571,880A28,4.5 28.6 0 0 521.8,853.2M573.3,870.8A28,4.5 29.7 0 0 524.6,843.1M575.8,861.4A28,4.5 32.4 0 0 528.5,831.4M578.6,852.8A28,4.5 34.4 0 0 532.4,821.2M582.6,842.3A28,4.5 33.9 0 0 536.1,811.1M586.6,831.6A28,4.5 30.9 0 0 538.5,802.8M590.4,818.9A28,4.5 26.1 0 0 540.1,794.2M592.9,807.6A28,4.5 22.9 0 0 541.3,785.8M594.6,796A28,4.5 21.4 0 0 542.5,775.6M595.9,786.3A28,4.5 21.7 0 0 543.9,765.5M597.4,775.3A28,4.5 21.6 0 0 545.3,754.7M598.8,765.2A28,4.5 21.2 0 0 546.6,744.9M600.2,754.1A28,4.5 20.7 0 0 547.8,734.3M601.4,743.8A28,4.5 20 0 0 548.8,724.7M602.6,732.3A28,4.5 18.9 0 0 549.7,714.2M603.6,721.8A28,4.5 17.7 0 0 550.2,704.8M604.3,710.5A28,4.5 17 0 0 550.7,694.1M604.8,700.5A28,4.5 16.8 0 0 551.2,684.2M605.3,689.7A28,4.5 17.3 0 0 551.9,673M605.8,680.2A28,4.5 18.3 0 0 552.7,662.6M606.6,669.5A28,4.5 18.9 0 0 553.7,651.3M607.5,659.7A28,4.5 19.2 0 0 554.6,641.2" fill="none" stroke="#9da2a7" stroke-width="1.8"/><path d="M523,662.2A30,15 0.4 0 1 463,661.8M523,662.2A30,15 0.4 0 0 463,661.8M520.6,652A30,15 1.4 0 1 460.6,650.5M520.6,652A30,15 1.4 0 0 460.6,650.5M517.9,639.4A30,15 -2.3 0 1 458,641.8M517.9,639.4A30,15 -2.3 0 0 458,641.8M513.6,624.4A30,15 -11.3 0 1 454.7,636.2M513.6,624.4A30,15 -11.3 0 0 454.7,636.2M507.5,611.6A30,15 -17.5 0 1 450.2,629.7M507.5,611.6A30,15 -17.5 0 0 450.2,629.7M500.2,599.7A30,15 -23.3 0 1 445.1,623.4M500.2,599.7A30,15 -23.3 0 0 445.1,623.4M491,587.7A30,15 -31.4 0 1 439.8,618.9M491,587.7A30,15 -31.4 0 0 439.8,618.9M479.9,576.8A30,15 -40.2 0 1 434.1,615.6M479.9,576.8A30,15 -40.2 0 0 434.1,615.6M467.2,567.8A30,15 -49.2 0 1 428,613.2M467.2,567.8A30,15 -49.2 0 0 428,613.2M451,559.9A30,15 -62.9 0 1 423.7,613.3M451,559.9A30,15 -62.9 0 0 423.7,613.3M430.3,556.3A30,15 277.5 0 1 422.5,615.8M430.3,556.3A30,15 277.5 0 0 422.5,615.8M412.3,558.9A30,15 263.2 0 1 419.3,618.5M412.3,558.9A30,15 263.2 0 0 419.3,618.5M397.7,564.6A30,15 254.1 0 0 414.1,622.3M397.7,564.6A30,15 254.1 0 1 414.1,622.3M384.7,572.1A30,15 246.3 0 0 408.8,627.1M384.7,572.1A30,15 246.3 0 1 408.8,627.1M373.3,581A30,15 239.6 0 0 403.7,632.7M373.3,581A30,15 239.6 0 1 403.7,632.7M363,591A30,15 233 0 0 399.2,638.9M363,591A30,15 233 0 1 399.2,638.9M354,602.2A30,14.3 226.3 0 0 395.4,645.6M354,602.2A30,14.3 226.3 0 1 395.4,645.6M347.4,612.6A30,13.2 221.8 0 0 392.1,652.6M347.4,612.6A30,13.2 221.8 0 1 392.1,652.6M341.2,624.1A30,11.9 217.8 0 0 388.6,660.9M341.2,624.1A30,11.9 217.8 0 1 388.6,660.9M336.4,634.8A30,10.8 214.3 0 0 385.9,668.6M336.4,634.8A30,10.8 214.3 0 1 385.9,668.6M331.8,647.4A29.9,9.6 209.7 0 0 383.7,677M331.8,647.4A29.9,9.6 209.7 0 1 383.7,677M328.9,658.1A29.7,8.8 205.6 0 0 382.4,683.8M328.9,658.1A29.7,8.8 205.6 0 1 382.4,683.8M326.6,669.8A29.5,7.8 202 0 0 381.3,691.8M325.3,680.9A29.2,6.9 199.6 0 0 380.3,700.5M324.4,691.6A29,6 198.2 0 0 379.5,709.7M323.6,701.3A29,6 196.8 0 0 379.2,718M323.1,712.1A29,6 195.1 0 0 379.1,727.2M322.8,721.9A29,6 193.5 0 0 379.2,735.4M322.8,732.9A29,6 191.5 0 0 379.7,744.5M323.2,742.9A29,6 189.5 0 0 380.4,752.4M324,754.3A29,6 186.4 0 0 381.7,760.8M325.3,764.3A29,6 184.2 0 0 383.1,768.6M327.1,774.9A29,6 182.7 0 0 385,777.7M328.9,784.1A29,6 182.1 0 0 386.9,786.2M331,793.8A29,6 182.3 0 0 388.9,796M332.8,802.4A29,6 182.6 0 0 390.7,805M334.8,812.4A29,6 182.3 0 0 392.7,814.7M336.6,821.4A29,6 181.9 0 0 394.6,823.3M338.8,831.4A29,6 181.3 0 0 396.7,832.8M340.8,840.5A29,6 180.7 0 0 398.8,841.2M343.1,850.7A29,6 179.9 0 0 401.1,850.5M345.4,859.9A29,6 178.8 0 0 403.4,858.7M348.1,869.9A29,6 178.1 0 0 406.1,867.9M350.6,878.7A29,6 177.8 0 0 408.6,876.4M353.4,888.2A29,6 178 0 0 411.4,886.1M355.9,896.6A29,6 178.5 0 0 413.8,895.1M358.5,906.2A29,6 178.5 0 0 416.5,904.7M360.9,915A29,6 178.3 0 0 418.9,913.3M363.6,924.5A29,6 178.6 0 0 421.6,923.1M365.9,932.7A29,6 179.5 0 0 423.9,932.2M368.3,941.6A29,6 181.1 0 0 426.3,942.7M370.2,949.4A29,6 183.2 0 0 428.1,952.6M372,958.2A29,6 185.3 0 0 429.8,963.5M373.3,966.4A29,6 186.5 0 0 430.9,973.1M374.6,975.8A29,6 187.7 0 0 432.1,983.5M375.6,984.3A29,6 188.5 0 0 432.9,992.9M376.5,994.2A29,6 188.8 0 0 433.8,1003M379,994.6A29,6 206.3 0 0 431,1020.3M376.8,1004.8A29,6 205.5 0 0 429.1,1029.8M375.1,1013.4A29,6 206.1 0 0 427.2,1038.8M373.1,1022.7A29,6 206.9 0 0 424.8,1049M371.3,1031A29,6 208 0 0 422.5,1058.2M369.1,1039.9A29,6 209.7 0 0 419.5,1068.6M367.2,1047.5A29,6 212.1 0 0 416.3,1078.3M364.6,1055.5A29,6 215.3 0 0 412,1089.1M361.7,1063.2A29,6 216.9 0 0 408.1,1098M357.9,1072.2A29,6 217.4 0 0 404,1107.4M354.2,1080.7A29,6 216.8 0 0 400.7,1115.5M349.9,1090.8A29,6 214.8 0 0 397.5,1123.9M346.2,1100.2A29,6 212.6 0 0 395.1,1131.5M342.8,1110.4A29,6 211.1 0 0 392.5,1140.4M340,1119.4A29,6 210.2 0 0 390.1,1148.6M337.1,1129.2A29,6 209.8 0 0 387.5,1158M334.7,1137.8A29,6 210 0 0 385,1166.8M332.1,1147.1A29,6 210.7 0 0 382,1176.7M329.7,1155.3A29,6 211.5 0 0 379.1,1185.6M326.7,1164.7A29,6 211.8 0 0 376,1195.3M323.9,1173.4A29,6 211.4 0 0 373.4,1203.7M320.7,1183.5A29,6 210.4 0 0 370.7,1212.8M317.8,1192.9A29,6 208.5 0 0 368.7,1220.7M315,1203.8A29,6 206.1 0 0 367,1229.3M312.7,1213.6A29,6 203.9 0 0 365.8,1237.1M310.6,1225.4A29,6 200 0 0 365.1,1245.2M309.4,1235.9A29,6 196.7 0 0 365,1252.6M308.8,1246.8A29.1,6.2 194.9 0 0 365,1261.7M308.4,1256.3A29.3,6.5 193.7 0 0 365.3,1270.2M308.2,1266.1A29.4,6.9 192 0 0 365.8,1278.4M308.3,1276.2A29.6,7.2 189.8 0 0 366.7,1286.3M308.8,1286.6A29.8,7.6 186.8 0 0 368,1293.7M309.7,1296.4A30,7.9 183.3 0 0 369.5,1299.8M309.7,1296.4A30,7.9 183.3 0 1 369.5,1299.8M311.3,1305.6A30,8.2 180.5 0 0 371.3,1306.2M311.3,1305.6A30,8.2 180.5 0 1 371.3,1306.2M313.4,1314.6A30,8.6 178.1 0 0 373.3,1312.7M313.4,1314.6A30,8.6 178.1 0 1 373.3,1312.7M315.8,1323.7A30,8.9 175.5 0 0 375.6,1318.9M315.8,1323.7A30,8.9 175.5 0 1 375.6,1318.9M318.7,1332.8A30,9.2 172.3 0 0 378.2,1324.8M318.7,1332.8A30,9.2 172.3 0 1 378.2,1324.8M322.7,1343.2A30,9.6 168.1 0 0 381.4,1330.8M322.7,1343.2A30,9.6 168.1 0 1 381.4,1330.8M327.1,1352.7A30,9.9 163.4 0 0 384.6,1335.5M327.1,1352.7A30,9.9 163.4 0 1 384.6,1335.5M333.2,1363.2A30,10 157.2 0 0 388.5,1340M333.2,1363.2A30,10 157.2 0 1 388.5,1340M339.3,1371.7A30,10 152.4 0 0 392.5,1343.9M339.3,1371.7A30,10 152.4 0 1 392.5,1343.9M346.8,1380.2A30,10 147.8 0 0 397.5,1348.2M346.8,1380.2A30,10 147.8 0 1 397.5,1348.2M353.7,1387.1A30,10 144.2 0 0 402.4,1352.1M353.7,1387.1A30,10 144.2 0 1 402.4,1352.1M361.9,1394.2A30,10 140.8 0 0 408.4,1356.2M361.9,1394.2A30,10 140.8 0 1 408.4,1356.2M369.7,1400.2A30,10 137.2 0 0 413.7,1359.4M369.7,1400.2A30,10 137.2 0 1 413.7,1359.4M379.2,1406.5A30,10 132.4 0 0 419.6,1362.3M379.2,1406.5A30,10 132.4 0 1 419.6,1362.3M387.7,1411.3A30,10 129 0 0 425.4,1364.7M387.7,1411.3A30,10 129 0 1 425.4,1364.7M397.4,1416A30,10 125.5 0 0 432.2,1367.1M397.4,1416A30,10 125.5 0 1 432.2,1367.1M406.3,1419.6A30,10 122.4 0 0 438.4,1368.9M406.3,1419.6A30,10 122.4 0 1 438.4,1368.9M417,1423.3A30,10 117.8 0 0 445,1370.3M417,1423.3A30,10 117.8 0 1 445,1370.3M427.6,1426.1A30,10 112 0 0 450.1,1370.5M427.6,1426.1A30,10 112 0 1 450.1,1370.5M440.4,1428A30,10 104.3 0 0 455.2,1369.9M440.4,1428A30,10 104.3 0 1 455.2,1369.9M451.6,1428.3A30,10 97.9 0 0 459.9,1368.8M451.6,1428.3A30,10 97.9 0 1 459.9,1368.8M463.4,1427.1A30,10 92.4 0 0 465.9,1367.2M463.4,1427.1A30,10 92.4 0 1 465.9,1367.2M474.1,1425.1A30,10 86.7 0 0 470.7,1365.2M474.1,1425.1A30,10 86.7 0 1 470.7,1365.2M486.1,1421.5A30,10 79.9 0 0 475.6,1362.5M486.1,1421.5A30,10 79.9 0 1 475.6,1362.5M495.9,1417.3A30,10 74.7 0 1 480,1359.4M495.9,1417.3A30,10 74.7 0 0 480,1359.4M505.8,1411.9A30,10 70.2 0 1 485.5,1355.4M505.8,1411.9A30,10 70.2 0 0 485.5,1355.4M513.6,1406.8A30,10 67.5 0 1 490.7,1351.3M513.6,1406.8A30,10 67.5 0 0 490.7,1351.3M521.8,1400.8A30,10 65.3 0 1 496.7,1346.3M521.8,1400.8A30,10 65.3 0 0 496.7,1346.3M528.8,1395.3A30,10 63.6 0 1 502.1,1341.6M528.8,1395.3A30,10 63.6 0 0 502.1,1341.6M536.5,1388.9A30,10 61.6 0 1 507.9,1336.1M536.5,1388.9A30,10 61.6 0 0 507.9,1336.1M543.2,1382.9A30,10 59.5 0 1 512.8,1331.2M543.2,1382.9A30,10 59.5 0 0 512.8,1331.2M550.6,1375.7A30,9.8 57.1 0 1 518,1325.4M550.6,1375.7A30,9.8 57.1 0 0 518,1325.4M556.9,1369.2A30,9.4 54.9 0 1 522.4,1320.1M556.9,1369.2A30,9.4 54.9 0 0 522.4,1320.1M563.1,1362.2A30,9.1 52.3 0 1 526.4,1314.7M563.1,1362.2A30,9.1 52.3 0 0 526.4,1314.7M569.9,1353.7A30,8.7 48.6 0 1 530.2,1308.7M569.9,1353.7A30,8.7 48.6 0 0 530.2,1308.7M575.7,1345.6A30,8.3 44.8 0 1 533.1,1303.4M575.7,1345.6A30,8.3 44.8 0 0 533.1,1303.4M581,1337A30,7.9 40.6 0 1 535.5,1298M581,1337A30,7.9 40.6 0 0 535.5,1298M585.4,1327.9A29.6,7.3 36.6 0 1 537.8,1292.6M589,1318.6A29.3,6.7 32.9 0 1 539.9,1286.8M592.3,1308.2A28.9,6 29.2 0 1 541.8,1280.1M595,1296.6A28.4,5.3 25.5 0 1 543.7,1272.1M597,1285.2A28,4.5 22.3 0 1 545.2,1263.9M598.7,1273.5A28,4.5 18.6 0 1 545.6,1255.7M599.7,1261.1A28,4.5 15.5 0 1 545.8,1246.1M600.1,1250A28,4.5 13.2 0 1 545.5,1237.2M599.9,1238.1A28,4.5 11.2 0 1 545,1227.2M599.4,1227.3A28,4.5 9.7 0 1 544.2,1218M598.6,1215.5A28,4.5 7.8 0 1 543.1,1207.9M597.4,1204.6A28,4.5 5.7 0 1 541.7,1199M595.7,1192.4A28,4.5 3 0 1 539.8,1189.4M593.6,1181.3A28,4.5 0.3 0 1 537.6,1181M590.6,1168.5A28,4.5 -4.2 0 1 534.7,1172.6M586.9,1157.2A28,4.5 -8.1 0 1 531.4,1165.2M582.4,1146.2A28,4.5 -10 0 1 527.2,1156M578.3,1137.2A28,4.5 -9.8 0 1 523.1,1146.7M574.2,1128.3A28,4.5 -7.3 0 1 518.7,1135.4M571.1,1120.6A28,4.5 -3.6 0 1 515.2,1124.2M568,1111.1A28,4.5 -1.5 0 1 512,1112.6M565.5,1102.1A28,4.5 -0.1 0 1 509.5,1102.2M562.9,1091.8A28,4.5 0.7 0 1 506.9,1091.2M560.6,1082.1A28,4.5 0.8 0 1 504.6,1081.4M558.1,1071.4A28,4.5 0.8 0 1 502.1,1070.7M555.8,1061.9A28,4.5 1.3 0 1 499.8,1060.7M553.4,1051.4A28,4.5 1.7 0 1 497.4,1049.8M551.3,1041.7A28,4.5 1.9 0 1 495.3,1039.8M549,1031.1A28,4.5 2.2 0 1 493.1,1029M546.9,1020.5A28,4.5 0.4 0 1 490.9,1020M544.2,1010.3A28,4.5 1.3 0 1 488.2,1009M542.3,1006.1A28,4.5 13.2 0 1 487.7,993.3M541.8,999.1A28,4.5 21.7 0 1 489.8,978.4M542.8,990.7A28,4.5 25.1 0 1 492.1,967M544.9,980.4A28,4.5 26.1 0 1 494.6,955.8M546.9,970.7A28,4.5 26.2 0 1 496.6,946M549.1,960.5A28,4.5 27.5 0 1 499.4,934.7M551.3,951.2A28,4.5 28.3 0 1 502,924.6M553.9,940.8A28,4.5 28.9 0 1 504.9,913.7M556.3,931.6A28,4.5 29.9 0 1 507.8,903.7M559.2,921.3A28,4.5 30.5 0 1 511,892.8M562.1,911.7A28,4.5 30.5 0 1 513.8,883.3M565.4,900.7A28,4.5 29.6 0 1 516.7,873.1M568.2,890.6A28,4.5 28.6 0 1 519,863.8M571,880A28,4.5 28.6 0 1 521.8,853.2M573.3,870.8A28,4.5 29.7 0 1 524.6,843.1M575.8,861.4A28,4.5 32.4 0 1 528.5,831.4M578.6,852.8A28,4.5 34.4 0 1 532.4,821.2M582.6,842.3A28,4.5 33.9 0 1 536.1,811.1M586.6,831.6A28,4.5 30.9 0 1 538.5,802.8M590.4,818.9A28,4.5 26.1 0 1 540.1,794.2M592.9,807.6A28,4.5 22.9 0 1 541.3,785.8M594.6,796A28,4.5 21.4 0 1 542.5,775.6M595.9,786.3A28,4.5 21.7 0 1 543.9,765.5M597.4,775.3A28,4.5 21.6 0 1 545.3,754.7M598.8,765.2A28,4.5 21.2 0 1 546.6,744.9M600.2,754.1A28,4.5 20.7 0 1 547.8,734.3M601.4,743.8A28,4.5 20 0 1 548.8,724.7M602.6,732.3A28,4.5 18.9 0 1 549.7,714.2M603.6,721.8A28,4.5 17.7 0 1 550.2,704.8M604.3,710.5A28,4.5 17 0 1 550.7,694.1M604.8,700.5A28,4.5 16.8 0 1 551.2,684.2M605.3,689.7A28,4.5 17.3 0 1 551.9,673M605.8,680.2A28,4.5 18.3 0 1 552.7,662.6M606.6,669.5A28,4.5 18.9 0 1 553.7,651.3M607.5,659.7A28,4.5 19.2 0 1 554.6,641.2" fill="none" stroke="#4b5055" stroke-width="3.5" stroke-linecap="round"/><path d="M523,662.2A30,15 0.4 0 1 463,661.8M523,662.2A30,15 0.4 0 0 463,661.8M520.6,652A30,15 1.4 0 1 460.6,650.5M520.6,652A30,15 1.4 0 0 460.6,650.5M517.9,639.4A30,15 -2.3 0 1 458,641.8M517.9,639.4A30,15 -2.3 0 0 458,641.8M513.6,624.4A30,15 -11.3 0 1 454.7,636.2M513.6,624.4A30,15 -11.3 0 0 454.7,636.2M507.5,611.6A30,15 -17.5 0 1 450.2,629.7M507.5,611.6A30,15 -17.5 0 0 450.2,629.7M500.2,599.7A30,15 -23.3 0 1 445.1,623.4M500.2,599.7A30,15 -23.3 0 0 445.1,623.4M491,587.7A30,15 -31.4 0 1 439.8,618.9M491,587.7A30,15 -31.4 0 0 439.8,618.9M479.9,576.8A30,15 -40.2 0 1 434.1,615.6M479.9,576.8A30,15 -40.2 0 0 434.1,615.6M467.2,567.8A30,15 -49.2 0 1 428,613.2M467.2,567.8A30,15 -49.2 0 0 428,613.2M451,559.9A30,15 -62.9 0 1 423.7,613.3M451,559.9A30,15 -62.9 0 0 423.7,613.3M430.3,556.3A30,15 277.5 0 1 422.5,615.8M430.3,556.3A30,15 277.5 0 0 422.5,615.8M412.3,558.9A30,15 263.2 0 1 419.3,618.5M412.3,558.9A30,15 263.2 0 0 419.3,618.5M397.7,564.6A30,15 254.1 0 0 414.1,622.3M397.7,564.6A30,15 254.1 0 1 414.1,622.3M384.7,572.1A30,15 246.3 0 0 408.8,627.1M384.7,572.1A30,15 246.3 0 1 408.8,627.1M373.3,581A30,15 239.6 0 0 403.7,632.7M373.3,581A30,15 239.6 0 1 403.7,632.7M363,591A30,15 233 0 0 399.2,638.9M363,591A30,15 233 0 1 399.2,638.9M354,602.2A30,14.3 226.3 0 0 395.4,645.6M354,602.2A30,14.3 226.3 0 1 395.4,645.6M347.4,612.6A30,13.2 221.8 0 0 392.1,652.6M347.4,612.6A30,13.2 221.8 0 1 392.1,652.6M341.2,624.1A30,11.9 217.8 0 0 388.6,660.9M341.2,624.1A30,11.9 217.8 0 1 388.6,660.9M336.4,634.8A30,10.8 214.3 0 0 385.9,668.6M336.4,634.8A30,10.8 214.3 0 1 385.9,668.6M331.8,647.4A29.9,9.6 209.7 0 0 383.7,677M331.8,647.4A29.9,9.6 209.7 0 1 383.7,677M328.9,658.1A29.7,8.8 205.6 0 0 382.4,683.8M328.9,658.1A29.7,8.8 205.6 0 1 382.4,683.8M326.6,669.8A29.5,7.8 202 0 0 381.3,691.8M325.3,680.9A29.2,6.9 199.6 0 0 380.3,700.5M324.4,691.6A29,6 198.2 0 0 379.5,709.7M323.6,701.3A29,6 196.8 0 0 379.2,718M323.1,712.1A29,6 195.1 0 0 379.1,727.2M322.8,721.9A29,6 193.5 0 0 379.2,735.4M322.8,732.9A29,6 191.5 0 0 379.7,744.5M323.2,742.9A29,6 189.5 0 0 380.4,752.4M324,754.3A29,6 186.4 0 0 381.7,760.8M325.3,764.3A29,6 184.2 0 0 383.1,768.6M327.1,774.9A29,6 182.7 0 0 385,777.7M328.9,784.1A29,6 182.1 0 0 386.9,786.2M331,793.8A29,6 182.3 0 0 388.9,796M332.8,802.4A29,6 182.6 0 0 390.7,805M334.8,812.4A29,6 182.3 0 0 392.7,814.7M336.6,821.4A29,6 181.9 0 0 394.6,823.3M338.8,831.4A29,6 181.3 0 0 396.7,832.8M340.8,840.5A29,6 180.7 0 0 398.8,841.2M343.1,850.7A29,6 179.9 0 0 401.1,850.5M345.4,859.9A29,6 178.8 0 0 403.4,858.7M348.1,869.9A29,6 178.1 0 0 406.1,867.9M350.6,878.7A29,6 177.8 0 0 408.6,876.4M353.4,888.2A29,6 178 0 0 411.4,886.1M355.9,896.6A29,6 178.5 0 0 413.8,895.1M358.5,906.2A29,6 178.5 0 0 416.5,904.7M360.9,915A29,6 178.3 0 0 418.9,913.3M363.6,924.5A29,6 178.6 0 0 421.6,923.1M365.9,932.7A29,6 179.5 0 0 423.9,932.2M368.3,941.6A29,6 181.1 0 0 426.3,942.7M370.2,949.4A29,6 183.2 0 0 428.1,952.6M372,958.2A29,6 185.3 0 0 429.8,963.5M373.3,966.4A29,6 186.5 0 0 430.9,973.1M374.6,975.8A29,6 187.7 0 0 432.1,983.5M375.6,984.3A29,6 188.5 0 0 432.9,992.9M376.5,994.2A29,6 188.8 0 0 433.8,1003M379,994.6A29,6 206.3 0 0 431,1020.3M376.8,1004.8A29,6 205.5 0 0 429.1,1029.8M375.1,1013.4A29,6 206.1 0 0 427.2,1038.8M373.1,1022.7A29,6 206.9 0 0 424.8,1049M371.3,1031A29,6 208 0 0 422.5,1058.2M369.1,1039.9A29,6 209.7 0 0 419.5,1068.6M367.2,1047.5A29,6 212.1 0 0 416.3,1078.3M364.6,1055.5A29,6 215.3 0 0 412,1089.1M361.7,1063.2A29,6 216.9 0 0 408.1,1098M357.9,1072.2A29,6 217.4 0 0 404,1107.4M354.2,1080.7A29,6 216.8 0 0 400.7,1115.5M349.9,1090.8A29,6 214.8 0 0 397.5,1123.9M346.2,1100.2A29,6 212.6 0 0 395.1,1131.5M342.8,1110.4A29,6 211.1 0 0 392.5,1140.4M340,1119.4A29,6 210.2 0 0 390.1,1148.6M337.1,1129.2A29,6 209.8 0 0 387.5,1158M334.7,1137.8A29,6 210 0 0 385,1166.8M332.1,1147.1A29,6 210.7 0 0 382,1176.7M329.7,1155.3A29,6 211.5 0 0 379.1,1185.6M326.7,1164.7A29,6 211.8 0 0 376,1195.3M323.9,1173.4A29,6 211.4 0 0 373.4,1203.7M320.7,1183.5A29,6 210.4 0 0 370.7,1212.8M317.8,1192.9A29,6 208.5 0 0 368.7,1220.7M315,1203.8A29,6 206.1 0 0 367,1229.3M312.7,1213.6A29,6 203.9 0 0 365.8,1237.1M310.6,1225.4A29,6 200 0 0 365.1,1245.2M309.4,1235.9A29,6 196.7 0 0 365,1252.6M308.8,1246.8A29.1,6.2 194.9 0 0 365,1261.7M308.4,1256.3A29.3,6.5 193.7 0 0 365.3,1270.2M308.2,1266.1A29.4,6.9 192 0 0 365.8,1278.4M308.3,1276.2A29.6,7.2 189.8 0 0 366.7,1286.3M308.8,1286.6A29.8,7.6 186.8 0 0 368,1293.7M309.7,1296.4A30,7.9 183.3 0 0 369.5,1299.8M309.7,1296.4A30,7.9 183.3 0 1 369.5,1299.8M311.3,1305.6A30,8.2 180.5 0 0 371.3,1306.2M311.3,1305.6A30,8.2 180.5 0 1 371.3,1306.2M313.4,1314.6A30,8.6 178.1 0 0 373.3,1312.7M313.4,1314.6A30,8.6 178.1 0 1 373.3,1312.7M315.8,1323.7A30,8.9 175.5 0 0 375.6,1318.9M315.8,1323.7A30,8.9 175.5 0 1 375.6,1318.9M318.7,1332.8A30,9.2 172.3 0 0 378.2,1324.8M318.7,1332.8A30,9.2 172.3 0 1 378.2,1324.8M322.7,1343.2A30,9.6 168.1 0 0 381.4,1330.8M322.7,1343.2A30,9.6 168.1 0 1 381.4,1330.8M327.1,1352.7A30,9.9 163.4 0 0 384.6,1335.5M327.1,1352.7A30,9.9 163.4 0 1 384.6,1335.5M333.2,1363.2A30,10 157.2 0 0 388.5,1340M333.2,1363.2A30,10 157.2 0 1 388.5,1340M339.3,1371.7A30,10 152.4 0 0 392.5,1343.9M339.3,1371.7A30,10 152.4 0 1 392.5,1343.9M346.8,1380.2A30,10 147.8 0 0 397.5,1348.2M346.8,1380.2A30,10 147.8 0 1 397.5,1348.2M353.7,1387.1A30,10 144.2 0 0 402.4,1352.1M353.7,1387.1A30,10 144.2 0 1 402.4,1352.1M361.9,1394.2A30,10 140.8 0 0 408.4,1356.2M361.9,1394.2A30,10 140.8 0 1 408.4,1356.2M369.7,1400.2A30,10 137.2 0 0 413.7,1359.4M369.7,1400.2A30,10 137.2 0 1 413.7,1359.4M379.2,1406.5A30,10 132.4 0 0 419.6,1362.3M379.2,1406.5A30,10 132.4 0 1 419.6,1362.3M387.7,1411.3A30,10 129 0 0 425.4,1364.7M387.7,1411.3A30,10 129 0 1 425.4,1364.7M397.4,1416A30,10 125.5 0 0 432.2,1367.1M397.4,1416A30,10 125.5 0 1 432.2,1367.1M406.3,1419.6A30,10 122.4 0 0 438.4,1368.9M406.3,1419.6A30,10 122.4 0 1 438.4,1368.9M417,1423.3A30,10 117.8 0 0 445,1370.3M417,1423.3A30,10 117.8 0 1 445,1370.3M427.6,1426.1A30,10 112 0 0 450.1,1370.5M427.6,1426.1A30,10 112 0 1 450.1,1370.5M440.4,1428A30,10 104.3 0 0 455.2,1369.9M440.4,1428A30,10 104.3 0 1 455.2,1369.9M451.6,1428.3A30,10 97.9 0 0 459.9,1368.8M451.6,1428.3A30,10 97.9 0 1 459.9,1368.8M463.4,1427.1A30,10 92.4 0 0 465.9,1367.2M463.4,1427.1A30,10 92.4 0 1 465.9,1367.2M474.1,1425.1A30,10 86.7 0 0 470.7,1365.2M474.1,1425.1A30,10 86.7 0 1 470.7,1365.2M486.1,1421.5A30,10 79.9 0 0 475.6,1362.5M486.1,1421.5A30,10 79.9 0 1 475.6,1362.5M495.9,1417.3A30,10 74.7 0 1 480,1359.4M495.9,1417.3A30,10 74.7 0 0 480,1359.4M505.8,1411.9A30,10 70.2 0 1 485.5,1355.4M505.8,1411.9A30,10 70.2 0 0 485.5,1355.4M513.6,1406.8A30,10 67.5 0 1 490.7,1351.3M513.6,1406.8A30,10 67.5 0 0 490.7,1351.3M521.8,1400.8A30,10 65.3 0 1 496.7,1346.3M521.8,1400.8A30,10 65.3 0 0 496.7,1346.3M528.8,1395.3A30,10 63.6 0 1 502.1,1341.6M528.8,1395.3A30,10 63.6 0 0 502.1,1341.6M536.5,1388.9A30,10 61.6 0 1 507.9,1336.1M536.5,1388.9A30,10 61.6 0 0 507.9,1336.1M543.2,1382.9A30,10 59.5 0 1 512.8,1331.2M543.2,1382.9A30,10 59.5 0 0 512.8,1331.2M550.6,1375.7A30,9.8 57.1 0 1 518,1325.4M550.6,1375.7A30,9.8 57.1 0 0 518,1325.4M556.9,1369.2A30,9.4 54.9 0 1 522.4,1320.1M556.9,1369.2A30,9.4 54.9 0 0 522.4,1320.1M563.1,1362.2A30,9.1 52.3 0 1 526.4,1314.7M563.1,1362.2A30,9.1 52.3 0 0 526.4,1314.7M569.9,1353.7A30,8.7 48.6 0 1 530.2,1308.7M569.9,1353.7A30,8.7 48.6 0 0 530.2,1308.7M575.7,1345.6A30,8.3 44.8 0 1 533.1,1303.4M575.7,1345.6A30,8.3 44.8 0 0 533.1,1303.4M581,1337A30,7.9 40.6 0 1 535.5,1298M581,1337A30,7.9 40.6 0 0 535.5,1298M585.4,1327.9A29.6,7.3 36.6 0 1 537.8,1292.6M589,1318.6A29.3,6.7 32.9 0 1 539.9,1286.8M592.3,1308.2A28.9,6 29.2 0 1 541.8,1280.1M595,1296.6A28.4,5.3 25.5 0 1 543.7,1272.1M597,1285.2A28,4.5 22.3 0 1 545.2,1263.9M598.7,1273.5A28,4.5 18.6 0 1 545.6,1255.7M599.7,1261.1A28,4.5 15.5 0 1 545.8,1246.1M600.1,1250A28,4.5 13.2 0 1 545.5,1237.2M599.9,1238.1A28,4.5 11.2 0 1 545,1227.2M599.4,1227.3A28,4.5 9.7 0 1 544.2,1218M598.6,1215.5A28,4.5 7.8 0 1 543.1,1207.9M597.4,1204.6A28,4.5 5.7 0 1 541.7,1199M595.7,1192.4A28,4.5 3 0 1 539.8,1189.4M593.6,1181.3A28,4.5 0.3 0 1 537.6,1181M590.6,1168.5A28,4.5 -4.2 0 1 534.7,1172.6M586.9,1157.2A28,4.5 -8.1 0 1 531.4,1165.2M582.4,1146.2A28,4.5 -10 0 1 527.2,1156M578.3,1137.2A28,4.5 -9.8 0 1 523.1,1146.7M574.2,1128.3A28,4.5 -7.3 0 1 518.7,1135.4M571.1,1120.6A28,4.5 -3.6 0 1 515.2,1124.2M568,1111.1A28,4.5 -1.5 0 1 512,1112.6M565.5,1102.1A28,4.5 -0.1 0 1 509.5,1102.2M562.9,1091.8A28,4.5 0.7 0 1 506.9,1091.2M560.6,1082.1A28,4.5 0.8 0 1 504.6,1081.4M558.1,1071.4A28,4.5 0.8 0 1 502.1,1070.7M555.8,1061.9A28,4.5 1.3 0 1 499.8,1060.7M553.4,1051.4A28,4.5 1.7 0 1 497.4,1049.8M551.3,1041.7A28,4.5 1.9 0 1 495.3,1039.8M549,1031.1A28,4.5 2.2 0 1 493.1,1029M546.9,1020.5A28,4.5 0.4 0 1 490.9,1020M544.2,1010.3A28,4.5 1.3 0 1 488.2,1009M542.3,1006.1A28,4.5 13.2 0 1 487.7,993.3M541.8,999.1A28,4.5 21.7 0 1 489.8,978.4M542.8,990.7A28,4.5 25.1 0 1 492.1,967M544.9,980.4A28,4.5 26.1 0 1 494.6,955.8M546.9,970.7A28,4.5 26.2 0 1 496.6,946M549.1,960.5A28,4.5 27.5 0 1 499.4,934.7M551.3,951.2A28,4.5 28.3 0 1 502,924.6M553.9,940.8A28,4.5 28.9 0 1 504.9,913.7M556.3,931.6A28,4.5 29.9 0 1 507.8,903.7M559.2,921.3A28,4.5 30.5 0 1 511,892.8M562.1,911.7A28,4.5 30.5 0 1 513.8,883.3M565.4,900.7A28,4.5 29.6 0 1 516.7,873.1M568.2,890.6A28,4.5 28.6 0 1 519,863.8M571,880A28,4.5 28.6 0 1 521.8,853.2M573.3,870.8A28,4.5 29.7 0 1 524.6,843.1M575.8,861.4A28,4.5 32.4 0 1 528.5,831.4M578.6,852.8A28,4.5 34.4 0 1 532.4,821.2M582.6,842.3A28,4.5 33.9 0 1 536.1,811.1M586.6,831.6A28,4.5 30.9 0 1 538.5,802.8M590.4,818.9A28,4.5 26.1 0 1 540.1,794.2M592.9,807.6A28,4.5 22.9 0 1 541.3,785.8M594.6,796A28,4.5 21.4 0 1 542.5,775.6M595.9,786.3A28,4.5 21.7 0 1 543.9,765.5M597.4,775.3A28,4.5 21.6 0 1 545.3,754.7M598.8,765.2A28,4.5 21.2 0 1 546.6,744.9M600.2,754.1A28,4.5 20.7 0 1 547.8,734.3M601.4,743.8A28,4.5 20 0 1 548.8,724.7M602.6,732.3A28,4.5 18.9 0 1 549.7,714.2M603.6,721.8A28,4.5 17.7 0 1 550.2,704.8M604.3,710.5A28,4.5 17 0 1 550.7,694.1M604.8,700.5A28,4.5 16.8 0 1 551.2,684.2M605.3,689.7A28,4.5 17.3 0 1 551.9,673M605.8,680.2A28,4.5 18.3 0 1 552.7,662.6M606.6,669.5A28,4.5 18.9 0 1 553.7,651.3M607.5,659.7A28,4.5 19.2 0 1 554.6,641.2" fill="none" stroke="#eef0f1" stroke-width="1.15"/>
</g>
<!--PARTS-->
<g transform="translate(680 700) scale(0.29985)">
<g filter="url(#galv)">
<path d="M1180,308Q1180,300 1187.1,303.7L1337.9,381.3Q1345,385 1344.8,393L1340.2,612Q1340,620 1332.6,623L1297.4,637Q1290,640 1290,648L1290,792Q1290,800 1282.5,797.3L1187.5,762.7Q1180,760 1180,752Z" fill="url(#gzd)" stroke="#7d838a" stroke-width="3" stroke-linejoin="round"/>
<path d="M1192.3,306.7Q1180,300 1192.2,293.1L1277.8,244.9Q1290,238 1304,238L1486,238Q1500,238 1511,246.6L1549,276.4Q1560,285 1558.1,298.9L1554.9,321.1Q1553,335 1551.1,348.9L1546.9,381.1Q1545,395 1531.4,398.5L1363.6,441.5Q1350,445 1346.6,431.4L1338.4,398.6Q1335,385 1322.7,378.3Z" fill="url(#gz)" stroke="#8d9399" stroke-width="3" stroke-linejoin="round"/>
<path d="M1341.5,399.9Q1340,392 1347.7,389.9L1545.3,337.1Q1553,335 1552.4,343L1548.6,390Q1548,398 1540.2,399.9L1357.8,444.1Q1350,446 1348.5,438.1Z" fill="#a3a8ad"/>
<ellipse cx="1400" cy="297" rx="62" ry="31" fill="#fff" transform="rotate(-6 1400 297)" stroke="#9ea3a8" stroke-width="3"/>
<path d="M446.5,707.6Q440,700 449.6,697.3L1000.4,542.7Q1010,540 1017.5,546.6L1417.5,898.4Q1425,905 1421.7,914.4L1421.3,915.6Q1418,925 1408.6,928.4L844.4,1131.6Q835,1135 826.1,1130.4L798.9,1116.6Q790,1112 783.5,1104.4Z" fill="url(#gz)" stroke="#8d9399" stroke-width="3" stroke-linejoin="round"/>
<path d="M790,1100 L835,1120 L1420,908 L1418,925 L835,1135 L790,1112Z" fill="#8f959b"/>
<path d="M520.4,646Q520,640 526,640L634,640Q640,640 640.2,646L649.8,954Q650,960 646.2,955.4L603.8,904.6Q600,900 596.6,895.1L533.4,804.9Q530,800 529.6,794Z" fill="url(#gzd)" stroke="#7d838a" stroke-width="3" stroke-linejoin="round"/>
<path d="M224.6,580.8Q222,565 231,551.8L249,525.2Q258,512 273.5,507.8L454.5,459.2Q470,455 484.3,462.2L525.7,482.8Q540,490 547.6,504.1L610.4,620.9Q618,635 602.6,639.2L387.4,697.8Q372,702 365.9,687.2L346.1,639.8Q340,625 324.3,621.8L243.7,605.2Q228,602 225.4,586.2Z" fill="url(#gz)" stroke="#8d9399" stroke-width="3" stroke-linejoin="round"/>
<path d="M343.1,632.4Q340,625 348,624.2L592,600.8Q600,600 603.7,607.1L614.3,627.9Q618,635 610.3,637.1L379.7,699.9Q372,702 368.9,694.6Z" fill="#a9aeb3"/>
<ellipse cx="385" cy="565" rx="86" ry="40" fill="#fff" transform="rotate(-9 385 565)" stroke="#9ea3a8" stroke-width="3"/>
</g>
<ellipse cx="1400" cy="297" rx="62" ry="31" fill="#fff" transform="rotate(-6 1400 297)" stroke="#9ea3a8" stroke-width="3"/>
<ellipse cx="385" cy="565" rx="86" ry="40" fill="#fff" transform="rotate(-9 385 565)" stroke="#9ea3a8" stroke-width="3"/>
<ellipse cx="905" cy="850" rx="215" ry="92" fill="#4a4d50"/>
<path d="M700,715 L700,820 A200,88 0 0 0 1100,820 L1100,715 Z" fill="url(#gcyl)"/>
<ellipse cx="900" cy="712" rx="200" ry="108" fill="#e4e4e1" stroke="#b4b4b0" stroke-width="3"/>
<ellipse cx="900" cy="708" rx="150" ry="78" fill="#ecece9"/>
<ellipse cx="1059.7" cy="742.8" rx="26" ry="17" fill="#f6f6f3" stroke="#aaa9a5" stroke-width="2"/>
<ellipse cx="971.8" cy="793.6" rx="26" ry="17" fill="#f6f6f3" stroke="#aaa9a5" stroke-width="2"/>
<ellipse cx="841.9" cy="796.6" rx="26" ry="17" fill="#f6f6f3" stroke="#aaa9a5" stroke-width="2"/>
<ellipse cx="745.9" cy="750" rx="26" ry="17" fill="#f6f6f3" stroke="#aaa9a5" stroke-width="2"/>
<ellipse cx="740.3" cy="681.2" rx="26" ry="17" fill="#f6f6f3" stroke="#aaa9a5" stroke-width="2"/>
<ellipse cx="828.2" cy="630.4" rx="26" ry="17" fill="#f6f6f3" stroke="#aaa9a5" stroke-width="2"/>
<ellipse cx="958.1" cy="627.4" rx="26" ry="17" fill="#f6f6f3" stroke="#aaa9a5" stroke-width="2"/>
<ellipse cx="1054.1" cy="674" rx="26" ry="17" fill="#f6f6f3" stroke="#aaa9a5" stroke-width="2"/>
<ellipse cx="1065" cy="950" rx="56" ry="40" fill="#b7bbbf" stroke="#7f858b" stroke-width="4"/>
<ellipse cx="1065" cy="948" rx="30" ry="21" fill="#dfe1e3" stroke="#8c9197" stroke-width="3"/>
<path d="M800,1100 Q950,1135 1110,1050 L1110,1020 L800,1085 Z" fill="#dcdcda"/>
<path d="M690.2,1020Q690,1015 693.9,1018.2L788.1,1094.8Q792,1098 792,1103L790,1317Q790,1322 786.5,1325.6L768.5,1344.4Q765,1348 762.1,1343.9L702.9,1259.1Q700,1255 699.8,1250Z" fill="url(#gblade)" stroke="#77777a" stroke-width="3" stroke-linejoin="round"/>
<ellipse cx="728" cy="1195" rx="9" ry="12" fill="#f4f4f4" stroke="#666" stroke-width="2"/>
<path d="M1040.7,1110Q1040,1105 1043.6,1101.5L1081.4,1065.5Q1085,1062 1089.9,1060.8L1137.1,1049.2Q1142,1048 1141.8,1053L1137.2,1203Q1137,1208 1133.1,1211.1L1115.9,1224.9Q1112,1228 1108.8,1224.2L1049.2,1153.8Q1046,1150 1045.3,1145Z" fill="url(#gblade)" stroke="#77777a" stroke-width="3" stroke-linejoin="round"/>
<ellipse cx="1098" cy="1090" rx="6" ry="10" fill="#f4f4f4" stroke="#666" stroke-width="2"/>
</g>
<g transform="translate(1120 700) scale(0.30044)">
<path d="M130,872 Q160,780 300,725 Q520,650 900,655 Q1130,690 1240,820 Q1275,900 1210,990 Q1080,1130 830,1190 Q600,1230 400,1150 Q180,1040 130,872Z" fill="#b4b6b8"/>
<path d="M130,860 Q160,768 300,713 Q520,638 900,643 Q1130,678 1240,808 Q1275,888 1210,975 Q1080,1112 830,1172 Q600,1212 400,1134 Q180,1026 130,860Z" fill="url(#gwhite)" stroke="#c4c6c8" stroke-width="3"/>
<ellipse cx="245" cy="858" rx="66" ry="34" fill="#fff" transform="rotate(-8 245 858)" stroke="#aeb0b2" stroke-width="4"/>
<ellipse cx="1190" cy="868" rx="54" ry="38" fill="#fff" stroke="#aeb0b2" stroke-width="4"/>
<path d="M344.7,426Q345,420 347.1,414.4L382.9,317.6Q385,312 390.6,309.8L446.4,287.2Q452,285 456.6,288.9L467.4,298.1Q472,302 471.8,308L466.2,514Q466,520 463,525.2L423,594.8Q420,600 414.6,597.4L343.4,562.6Q338,560 338.3,554Z" fill="url(#gblade2)" stroke="#7a7a78" stroke-width="3" stroke-linejoin="round"/>
<path d="M345,420 L385,312 L400,318 L372,440 L365,560 L338,560Z" fill="#a4a4a1"/>
<ellipse cx="408" cy="376" rx="7" ry="11" fill="#666"/>
<path d="M300,555Q300,545 308.9,540.5L341.1,524.5Q350,520 358.9,524.5L421.1,555.5Q430,560 435.7,551.8L514.3,438.2Q520,430 530,429.2L630,420.8Q640,420 640,430L640,790Q640,800 630.1,801.6L459.9,828.4Q450,830 442.4,823.5L307.6,706.5Q300,700 300,690Z" fill="#1d1d1d"/>
<path d="M301.8,550.7Q300,545 305.4,542.3L344.6,522.7Q350,520 355.4,522.7L424.6,557.3Q430,560 431.2,565.9L438.8,604.1Q440,610 434.2,611.6L335.8,638.4Q330,640 328.2,634.3Z" fill="#3a3a3a"/>
<path d="M435,640 L440,940 Q470,1040 640,1062 Q760,1070 830,1010 L960,640 Z" fill="url(#gblk)"/>
<path d="M800,808Q800,800 806.8,795.8L953.2,704.2Q960,700 965.3,706L1124.7,884Q1130,890 1130.1,898L1131.9,1022Q1132,1030 1125,1033.9L939,1138.1Q932,1142 926.1,1136.6L805.9,1025.4Q800,1020 800,1012Z" fill="#222"/>
<path d="M934.9,1006Q935,1000 940.3,997.2L1124.7,897.8Q1130,895 1130.1,901L1131.9,1024Q1132,1030 1126.8,1032.9L937.2,1139.1Q932,1142 932.1,1136Z" fill="#2f2f2f"/>
<path d="M821.3,887.9Q820,880 826.4,875.2L893.6,824.8Q900,820 907.6,822.5L982.4,847.5Q990,850 989.6,858L985.4,952Q985,960 977.1,961.4L907.9,973.6Q900,975 892.8,971.4L837.2,943.6Q830,940 828.7,932.1Z" fill="#c9c9c6" stroke="#888" stroke-width="3" stroke-linejoin="round"/>
<ellipse cx="928" cy="905" rx="30" ry="24" fill="#efefec" stroke="#777" stroke-width="4"/>
<ellipse cx="860" cy="900" rx="16" ry="13" fill="#e8e8e5" stroke="#888" stroke-width="3"/>
<path d="M990.4,828Q990,822 995.1,818.9L1070.9,773.1Q1076,770 1076.3,776L1085.7,952Q1086,958 1080.9,961.1L963.1,1032.9Q958,1036 958,1030L958,996Q958,990 962.9,986.5L995.1,963.5Q1000,960 999.6,954Z" fill="url(#gblade2)" stroke="#7a7a78" stroke-width="3" stroke-linejoin="round"/>
<ellipse cx="1030" cy="872" rx="8" ry="11" fill="#555"/>
<ellipse cx="696" cy="630" rx="262" ry="208" fill="#161616" transform="rotate(-10 696 630)"/>
<ellipse cx="692" cy="622" rx="236" ry="180" fill="#f7f7f7" transform="rotate(-10 692 622)"/>
<text class="sans" x="0" y="0" font-size="59" fill="#141414" stroke="#141414" stroke-width="2.6" transform="matrix(0.834,0.552,-0.97,0.79,550,563)" textLength="300" lengthAdjust="spacingAndGlyphs">L260-50°F</text>
</g>
<g transform="translate(720 1160) scale(0.28732)">
<path d="M468,1150 L478,1258 Q600,1330 800,1305 Q950,1270 1012,1130 Z" fill="url(#gcup)"/>
<path d="M138,1163Q128,1138 150.9,1105.2L372.1,787.8Q395,755 434.5,748.5L960.5,661.5Q1000,655 1040,653.5L1150,649.5Q1190,648 1219.8,674.6L1235.2,688.4Q1265,715 1263.5,753.5L1263.5,753.5Q1262,792 1237.9,823.9L1044.1,1080.1Q1020,1112 982.8,1126.6L917.2,1152.4Q880,1167 840.2,1170.7L599.8,1193.3Q560,1197 520.1,1199.8L319.9,1214.2Q280,1217 240.9,1208.4L187.1,1196.6Q148,1188 138,1163Z" fill="#9da0a3"/>
<path d="M138,1145Q128,1120 151,1087.3L372,772.7Q395,740 434.5,733.6L960.5,648.4Q1000,642 1040,640.5L1150,636.5Q1190,635 1220.2,661.2L1234.8,673.8Q1265,700 1263.5,737.5L1263.5,737.5Q1262,775 1237.9,806.9L1044.1,1063.1Q1020,1095 982.8,1109.6L917.2,1135.4Q880,1150 840.2,1153.7L599.8,1176.3Q560,1180 520.1,1182.8L319.9,1197.2Q280,1200 241,1191.1L187,1178.9Q148,1170 138,1145Z" fill="url(#gfl)" stroke="#b9bcbf" stroke-width="3" stroke-linejoin="round"/>
<ellipse cx="310" cy="1100" rx="86" ry="48" fill="#fff" transform="rotate(-12 310 1100)" stroke="#a4a7aa" stroke-width="4"/>
<ellipse cx="1085" cy="742" rx="86" ry="44" fill="#fff" transform="rotate(-8 1085 742)" stroke="#a4a7aa" stroke-width="4"/>
<path d="M415,730 L415,990 A292,112 0 0 0 1000,975 L1000,700 Z" fill="url(#gblk)"/>
<ellipse cx="707" cy="725" rx="292" ry="128" fill="#1b1b1b" transform="rotate(-3 707 725)"/>
<path d="M424.9,308Q425,300 427.1,292.3L434.9,262.7Q437,255 443.9,250.9L583.1,169.1Q590,165 597.4,168.1L634.6,183.9Q642,187 642.5,195L659.5,492Q660,500 658.4,507.8L641.6,592.2Q640,600 632,600L428,600Q420,600 420.1,592Z" fill="url(#gblade2)" stroke="#7d7d7a" stroke-width="3" stroke-linejoin="round"/>
<path d="M425,300 L437,255 L470,250 L465,600 L420,600Z" fill="#9d9d9a"/>
<path d="M468.1,426Q468,420 473.9,418.9L649.1,386.1Q655,385 655.3,391L659.7,494Q660,500 654.5,502.5L477.5,582.5Q472,585 471.9,579Z" fill="#77777a" opacity="0.75"/>
<ellipse cx="545" cy="350" rx="34" ry="36" fill="#f3f3f0" stroke="#6a6a68" stroke-width="6"/>
<path d="M470.7,566Q470,560 475.7,558.2L654.3,501.8Q660,500 661.6,505.8L698.4,634.2Q700,640 694.6,642.7L605.4,687.3Q600,690 594.5,687.7L485.5,642.3Q480,640 479.3,634Z" fill="#d2d2cf" stroke="#888" stroke-width="2" stroke-linejoin="round"/>
<ellipse cx="610" cy="595" rx="40" ry="42" fill="#a0602f" stroke="#5e3517" stroke-width="4"/>
<ellipse cx="605" cy="585" rx="16" ry="16" fill="#d79a62"/>
<path d="M440,646Q440,640 445.3,637.2L514.7,600.8Q520,598 524.7,601.7L825.3,836.3Q830,840 827.5,845.4L802.5,899.6Q800,905 794.1,903.8L705.9,886.2Q700,885 695.2,881.4L444.8,693.6Q440,690 440,684Z" fill="#1f1f1f"/>
<path d="M661.3,523.8Q660,520 664,519.5L736,510.5Q740,510 741.3,513.8L768.7,596.2Q770,600 766.5,602L703.5,638Q700,640 698.7,636.2Z" fill="#181818"/>
<ellipse cx="745" cy="760" rx="18" ry="40" fill="#8a4f26"/>
<path d="M769.5,608Q770,600 773.6,592.8L786.4,567.2Q790,560 797.1,556.2L932.9,483.8Q940,480 946.9,484.1L983.1,505.9Q990,510 990.1,518L994.9,824Q995,832 987.7,835.3L807.3,916.7Q800,920 792.6,917L757.4,903Q750,900 750.5,892Z" fill="#e6e6e3" stroke="#7d7d7a" stroke-width="3" stroke-linejoin="round"/>
<path d="M770,600 L790,560 L815,560 L800,920 L750,900Z" fill="#b4b4b1"/>
<ellipse cx="890" cy="685" rx="32" ry="35" fill="#dadad7" stroke="#555553" stroke-width="6"/>
</g>
<g transform="translate(1140 1160) scale(0.28794)">
<path d="M605.3,1045Q605,1040 610,1040L710,1040Q715,1040 715.1,1045L719.9,1217Q720,1222 715.9,1224.9L696.1,1239.1Q692,1242 688.5,1238.4L615.5,1163.6Q612,1160 611.7,1155Z" fill="url(#gbrass)" stroke="#6f5a22" stroke-width="3" stroke-linejoin="round"/>
<ellipse cx="652" cy="1100" rx="9" ry="9" fill="#3a2e10"/>
<path d="M790.9,1044.9Q790,1040 795,1039.6L900,1030.4Q905,1030 905.2,1035L909.8,1155Q910,1160 905.4,1161.9L884.6,1170.1Q880,1172 876.5,1168.5L803.5,1095.5Q800,1092 799.1,1087.1Z" fill="url(#gbrass)" stroke="#6f5a22" stroke-width="3" stroke-linejoin="round"/>
<path d="M170,992.5Q162,965 181.3,930L280.7,750Q300,715 330.7,689.4L389.3,640.6Q420,615 459.8,611.2L960.2,563.8Q1000,560 1040,560L1210,560Q1250,560 1282.4,583.4L1289.6,588.6Q1322,612 1317.2,651.7L1316.8,655.3Q1312,695 1284.2,723.8L1127.8,886.2Q1100,915 1064,932.5L936,994.5Q900,1012 860.4,1017.7L639.6,1049.3Q600,1055 560,1055.7L340,1059.3Q300,1060 262,1047.5L216,1032.5Q178,1020 170,992.5Z" fill="#151515"/>
<path d="M172.5,970Q165,940 184.6,905.1L280.4,734.9Q300,700 330.7,674.4L389.3,625.6Q420,600 459.8,596.2L960.2,548.8Q1000,545 1040,545L1210,545Q1250,545 1281.9,569.1L1288.1,573.9Q1320,598 1315,635L1315,635Q1310,672 1282.4,701L1127.6,864Q1100,893 1064.2,910.7L935.8,974.3Q900,992 860.3,997L639.7,1025Q600,1030 560,1031.1L340,1036.9Q300,1038 261.9,1025.9L218.1,1012.1Q180,1000 172.5,970Z" fill="#2c2c2c"/>
<ellipse cx="300" cy="945" rx="56" ry="24" fill="#fff" transform="rotate(-10 300 945)"/>
<ellipse cx="1200" cy="615" rx="56" ry="22" fill="#fff" transform="rotate(-8 1200 615)"/>
<ellipse cx="315" cy="895" rx="22" ry="16" fill="#111"/>
<ellipse cx="1215" cy="575" rx="22" ry="14" fill="#111"/>
<path d="M445,650 L440,775 A322,150 0 0 0 1080,760 L1075,630 Z" fill="#1a1a1a"/>
<ellipse cx="760" cy="640" rx="316" ry="140" fill="#343434" transform="rotate(-3 760 640)"/>
<path d="M612.5,555Q612,545 617.5,536.6L634.5,510.4Q640,502 649.5,498.9L850.5,433.1Q860,430 869.4,433.5L882.6,438.5Q892,442 894.5,451.7L929.5,590.3Q932,600 927,608.7L907,643.3Q902,652 892.4,654.7L659.6,719.3Q650,722 641.9,716.1L628.1,705.9Q620,700 619.5,690Z" fill="#242424"/>
<path d="M619.4,547.9Q612,545 616.4,538.3L635.6,508.7Q640,502 647.6,499.5L852.4,432.5Q860,430 867.5,432.8L884.5,439.2Q892,442 888.8,449.4L883.2,462.6Q880,470 872.6,472.9L657.4,557.1Q650,560 642.6,557.1Z" fill="#4a4a4a"/>
<path d="M735,485 L800,465 L806,500 L740,520Z" fill="#9b5a3a"/>
</g>
<!--DIMS-->
<line x1="165.5" y1="620.5" x2="300.5" y2="620.5" stroke="#0c0c0c" stroke-width="2.0"/>
<line x1="165.5" y1="1470" x2="300.5" y2="1470" stroke="#0c0c0c" stroke-width="2.0"/>
<line x1="174.5" y1="634" x2="174.5" y2="968" stroke="#0c0c0c" stroke-width="2.0"/><line x1="174.5" y1="1072" x2="174.5" y2="1458" stroke="#0c0c0c" stroke-width="2.0"/><polygon points="174.5,626 178.8,641 170.2,641" fill="#0c0c0c"/><polygon points="174.5,1466 170.2,1451 178.8,1451" fill="#0c0c0c"/>
<text class="dim" font-size="35.5" x="162.5" y="977" textLength="88.5" lengthAdjust="spacingAndGlyphs" transform="rotate(90 162.5 977)">9.8 in</text>
<line x1="270.5" y1="1509.3" x2="397" y2="1509.3" stroke="#0c0c0c" stroke-width="2.0"/><line x1="482.3" y1="1509.3" x2="613.8" y2="1509.3" stroke="#0c0c0c" stroke-width="2.0"/><polygon points="262.5,1509.3 277.5,1505 277.5,1513.6" fill="#0c0c0c"/><polygon points="621.8,1509.3 606.8,1513.6 606.8,1505" fill="#0c0c0c"/>
<text class="dim" font-size="35.5" x="404" y="1516.3" textLength="73" lengthAdjust="spacingAndGlyphs">4.5 in</text>
<line x1="623.5" y1="1425" x2="623.5" y2="1523" stroke="#0c0c0c" stroke-width="2.0"/>
<line x1="205" y1="1562.2" x2="393.5" y2="1562.2" stroke="#0c0c0c" stroke-width="2.0"/><line x1="484.5" y1="1562.2" x2="679.6" y2="1562.2" stroke="#0c0c0c" stroke-width="2.0"/><polygon points="197,1562.2 212,1557.9 212,1566.5" fill="#0c0c0c"/><polygon points="687.6,1562.2 672.6,1566.5 672.6,1557.9" fill="#0c0c0c"/>
<text class="dim" font-size="35.5" x="405.5" y="1571.8" textLength="72.5" lengthAdjust="spacingAndGlyphs">6.8 in</text>
<line x1="194.3" y1="1250" x2="194.3" y2="1571" stroke="#0c0c0c" stroke-width="2.0"/>
<line x1="690.3" y1="1250" x2="690.3" y2="1571" stroke="#0c0c0c" stroke-width="2.0"/>
<line x1="736.6" y1="834.5" x2="878.2" y2="799" stroke="#0c0c0c" stroke-width="2.0"/><line x1="977.3" y1="774.6" x2="1120.4" y2="739.1" stroke="#0c0c0c" stroke-width="2.0"/><polygon points="728.8,836.4 742.3,828.6 744.4,837" fill="#0c0c0c"/><polygon points="1128.2,737.2 1114.7,745 1112.6,736.6" fill="#0c0c0c"/>
<text class="dim" font-size="35.5" x="890" y="806.5" textLength="83.5" lengthAdjust="spacingAndGlyphs" transform="rotate(-14 890 806.5)">2.2 in</text>
<line x1="728.2" y1="864.5" x2="728.2" y2="957.4" stroke="#0c0c0c" stroke-width="2.0"/><line x1="728.2" y1="1026.3" x2="728.2" y2="1101.6" stroke="#0c0c0c" stroke-width="2.0"/><polygon points="728.2,856.5 732.5,871.5 723.9,871.5" fill="#0c0c0c"/><polygon points="728.2,1109.6 723.9,1094.6 732.5,1094.6" fill="#0c0c0c"/>
<text class="dim" font-size="35.5" x="694.5" y="996.1" textLength="80" lengthAdjust="spacingAndGlyphs">1.2 in</text>
<line x1="926.1" y1="1115.5" x2="1027.1" y2="1086.5" stroke="#0c0c0c" stroke-width="2.0"/><polygon points="918.4,1117.7 931.6,1109.4 934,1117.7" fill="#0c0c0c"/><polygon points="1034.8,1084.3 1021.6,1092.6 1019.2,1084.3" fill="#0c0c0c"/>
<text class="dim" font-size="35.5" x="954.5" y="1142" textLength="78.5" lengthAdjust="spacingAndGlyphs" transform="rotate(-16.5 954.5 1142)">0.6 in</text>
<line x1="1539.1" y1="790.6" x2="1539.1" y2="886.3" stroke="#0c0c0c" stroke-width="2.0"/><line x1="1539.1" y1="958.4" x2="1539.1" y2="1049.5" stroke="#0c0c0c" stroke-width="2.0"/><polygon points="1539.1,782.6 1543.4,797.6 1534.8,797.6" fill="#0c0c0c"/><polygon points="1539.1,1057.5 1534.8,1042.5 1543.4,1042.5" fill="#0c0c0c"/>
<text class="dim" font-size="35.5" x="1499" y="929.8" textLength="80.5" lengthAdjust="spacingAndGlyphs">1.5 in</text>
<line x1="1168.6" y1="1099.6" x2="1282.2" y2="1099.6" stroke="#0c0c0c" stroke-width="2.0"/><line x1="1379.9" y1="1099.6" x2="1496.6" y2="1099.6" stroke="#0c0c0c" stroke-width="2.0"/><polygon points="1160.6,1099.6 1175.6,1095.3 1175.6,1103.9" fill="#0c0c0c"/><polygon points="1504.6,1099.6 1489.6,1103.9 1489.6,1095.3" fill="#0c0c0c"/>
<text class="dim" font-size="35.5" x="1297.5" y="1110.1" textLength="77.5" lengthAdjust="spacingAndGlyphs">1.8 in</text>
<line x1="1099.8" y1="1215.4" x2="1099.8" y2="1277.8" stroke="#0c0c0c" stroke-width="2.0"/><line x1="1099.8" y1="1339.6" x2="1099.8" y2="1527" stroke="#0c0c0c" stroke-width="2.0"/><polygon points="1099.8,1207.4 1104.1,1222.4 1095.5,1222.4" fill="#0c0c0c"/><polygon points="1099.8,1535 1095.5,1520 1104.1,1520" fill="#0c0c0c"/>
<text class="dim" font-size="35.5" x="1053.5" y="1319.5" textLength="82.5" lengthAdjust="spacingAndGlyphs">0.9 in</text>
<line x1="768.2" y1="1562.3" x2="876.6" y2="1562.3" stroke="#0c0c0c" stroke-width="2.0"/><line x1="971.4" y1="1562.3" x2="1075.5" y2="1562.3" stroke="#0c0c0c" stroke-width="2.0"/><polygon points="760.2,1562.3 775.2,1558 775.2,1566.6" fill="#0c0c0c"/><polygon points="1083.5,1562.3 1068.5,1566.6 1068.5,1558" fill="#0c0c0c"/>
<text class="dim" font-size="35.5" x="885.5" y="1573.7" textLength="82.5" lengthAdjust="spacingAndGlyphs">1.3 in</text>
<line x1="886.4" y1="1220.4" x2="961.6" y2="1300.7" stroke="#0c0c0c" stroke-width="2.0"/><polygon points="880.9,1214.6 894.3,1222.6 888,1228.5" fill="#0c0c0c"/><polygon points="967.1,1306.5 953.7,1298.5 960,1292.6" fill="#0c0c0c"/>
<text class="dim" font-size="34" x="909.5" y="1233" textLength="79.5" lengthAdjust="spacingAndGlyphs" transform="rotate(46.8 909.5 1233)">0.6 in</text>
<line x1="1538.8" y1="1288.9" x2="1538.8" y2="1367.3" stroke="#0c0c0c" stroke-width="2.0"/><line x1="1538.8" y1="1426.4" x2="1538.8" y2="1503.3" stroke="#0c0c0c" stroke-width="2.0"/><polygon points="1538.8,1280.9 1543.1,1295.9 1534.5,1295.9" fill="#0c0c0c"/><polygon points="1538.8,1511.3 1534.5,1496.3 1543.1,1496.3" fill="#0c0c0c"/>
<text class="dim" font-size="35.5" x="1510.2" y="1409.1" textLength="81" lengthAdjust="spacingAndGlyphs">0.7 in</text>
<line x1="1191.2" y1="1543.5" x2="1314.2" y2="1543.5" stroke="#0c0c0c" stroke-width="2.0"/><line x1="1416.4" y1="1543.5" x2="1525" y2="1543.5" stroke="#0c0c0c" stroke-width="2.0"/><polygon points="1183.2,1543.5 1198.2,1539.2 1198.2,1547.8" fill="#0c0c0c"/><polygon points="1533,1543.5 1518,1547.8 1518,1539.2" fill="#0c0c0c"/>
<text class="dim" font-size="35.5" x="1324.5" y="1553" textLength="81" lengthAdjust="spacingAndGlyphs">2.1 in</text>
</svg>
</body></html>
